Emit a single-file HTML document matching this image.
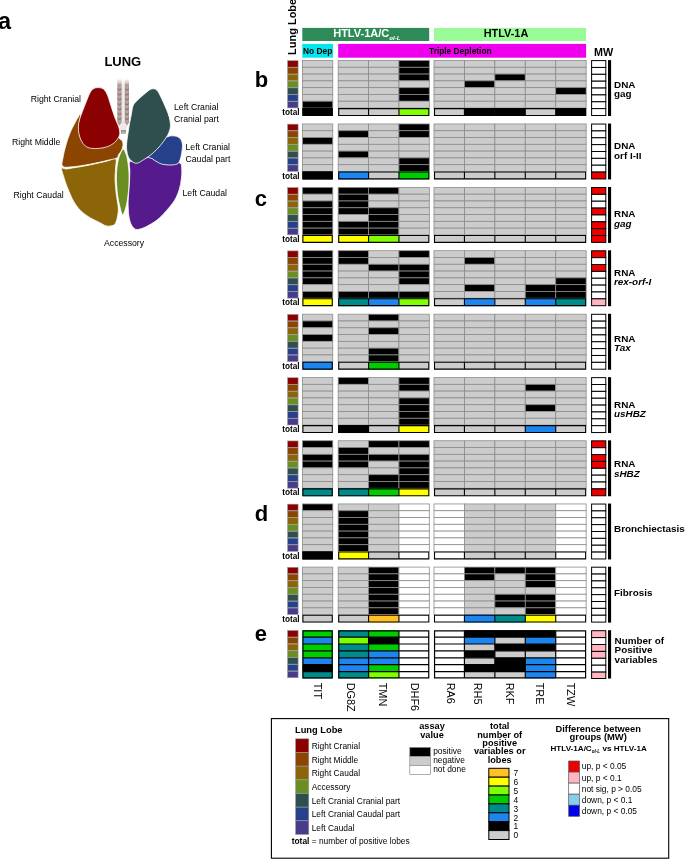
<!DOCTYPE html>
<html lang="en">
<head>
<meta charset="utf-8">
<title>Lung lobe figure</title>
<style>
html,body{margin:0;padding:0;background:#ffffff;}
body{width:685px;height:859px;overflow:hidden;}
svg{display:block;}
svg text{font-family:"Liberation Sans",Arial,Helvetica,sans-serif;fill:#000000;}
</style>
</head>
<body>
<svg width="685" height="859" viewBox="0 0 685 859">
<rect x="0" y="0" width="685" height="859" fill="#ffffff"/>
<!-- lung illustration -->
<defs><linearGradient id="trf" x1="0" y1="0" x2="0" y2="1"><stop offset="0" stop-color="#ffffff" stop-opacity="1"/><stop offset="0.25" stop-color="#ffffff" stop-opacity="0.95"/><stop offset="1" stop-color="#ffffff" stop-opacity="0"/></linearGradient></defs>
<g>
<path d="M121.2,78 H125.2 V125 L127.4,125.6 L126.1,130 H120.7 L119.2,125.6 L121.2,125 Z" fill="#ebe9e9"/>
<path d="M117.3,78 H121.6 V122.6 L119.45,125.8 L117.3,122.6 Z" fill="#ad9893"/>
<path d="M117.50,84.00 L119.45,85.30 L121.40,84.00" fill="none" stroke="#836863" stroke-width="0.9"/>
<ellipse cx="119.45" cy="87.20" rx="1.5" ry="1.3" fill="#b7a5a1"/>
<path d="M117.50,88.90 L119.45,90.20 L121.40,88.90" fill="none" stroke="#836863" stroke-width="0.9"/>
<ellipse cx="119.45" cy="92.10" rx="1.5" ry="1.3" fill="#b7a5a1"/>
<path d="M117.50,93.80 L119.45,95.10 L121.40,93.80" fill="none" stroke="#836863" stroke-width="0.9"/>
<ellipse cx="119.45" cy="97.00" rx="1.5" ry="1.3" fill="#b7a5a1"/>
<path d="M117.50,98.70 L119.45,100.00 L121.40,98.70" fill="none" stroke="#836863" stroke-width="0.9"/>
<ellipse cx="119.45" cy="101.90" rx="1.5" ry="1.3" fill="#b7a5a1"/>
<path d="M117.50,103.60 L119.45,104.90 L121.40,103.60" fill="none" stroke="#836863" stroke-width="0.9"/>
<ellipse cx="119.45" cy="106.80" rx="1.5" ry="1.3" fill="#b7a5a1"/>
<path d="M117.50,108.50 L119.45,109.80 L121.40,108.50" fill="none" stroke="#836863" stroke-width="0.9"/>
<ellipse cx="119.45" cy="111.70" rx="1.5" ry="1.3" fill="#b7a5a1"/>
<path d="M117.50,113.40 L119.45,114.70 L121.40,113.40" fill="none" stroke="#836863" stroke-width="0.9"/>
<ellipse cx="119.45" cy="116.60" rx="1.5" ry="1.3" fill="#b7a5a1"/>
<path d="M117.50,118.30 L119.45,119.60 L121.40,118.30" fill="none" stroke="#836863" stroke-width="0.9"/>
<ellipse cx="119.45" cy="121.50" rx="1.5" ry="1.3" fill="#b7a5a1"/>
<path d="M124.8,78 H129.0 V122.6 L126.90,125.8 L124.8,122.6 Z" fill="#ad9893"/>
<path d="M125.00,84.00 L126.90,85.30 L128.80,84.00" fill="none" stroke="#836863" stroke-width="0.9"/>
<ellipse cx="126.90" cy="87.20" rx="1.5" ry="1.3" fill="#b7a5a1"/>
<path d="M125.00,88.90 L126.90,90.20 L128.80,88.90" fill="none" stroke="#836863" stroke-width="0.9"/>
<ellipse cx="126.90" cy="92.10" rx="1.5" ry="1.3" fill="#b7a5a1"/>
<path d="M125.00,93.80 L126.90,95.10 L128.80,93.80" fill="none" stroke="#836863" stroke-width="0.9"/>
<ellipse cx="126.90" cy="97.00" rx="1.5" ry="1.3" fill="#b7a5a1"/>
<path d="M125.00,98.70 L126.90,100.00 L128.80,98.70" fill="none" stroke="#836863" stroke-width="0.9"/>
<ellipse cx="126.90" cy="101.90" rx="1.5" ry="1.3" fill="#b7a5a1"/>
<path d="M125.00,103.60 L126.90,104.90 L128.80,103.60" fill="none" stroke="#836863" stroke-width="0.9"/>
<ellipse cx="126.90" cy="106.80" rx="1.5" ry="1.3" fill="#b7a5a1"/>
<path d="M125.00,108.50 L126.90,109.80 L128.80,108.50" fill="none" stroke="#836863" stroke-width="0.9"/>
<ellipse cx="126.90" cy="111.70" rx="1.5" ry="1.3" fill="#b7a5a1"/>
<path d="M125.00,113.40 L126.90,114.70 L128.80,113.40" fill="none" stroke="#836863" stroke-width="0.9"/>
<ellipse cx="126.90" cy="116.60" rx="1.5" ry="1.3" fill="#b7a5a1"/>
<path d="M125.00,118.30 L126.90,119.60 L128.80,118.30" fill="none" stroke="#836863" stroke-width="0.9"/>
<ellipse cx="126.90" cy="121.50" rx="1.5" ry="1.3" fill="#b7a5a1"/>
<path d="M120.6,129.9 H126.2 L125.6,133.8 H121.2 Z" fill="#a48a85"/>
<path d="M122.3,131.3 H124.5 L124.3,133.8 H122.5 Z" fill="#c9bab7"/>
<rect x="116" y="76.5" width="15" height="10" fill="url(#trf)"/>
</g>
<path d="M61.6,168.5C62.0,167.2 64.2,169.1 66.0,169.0C67.8,168.9 68.5,168.7 72.5,168.0C76.5,167.3 84.2,166.1 90.0,164.9C95.8,163.7 103.3,161.9 107.6,160.9C111.9,159.9 114.4,157.8 115.7,158.9C117.0,160.0 115.7,164.1 115.6,167.5C115.5,170.9 115.0,174.7 115.1,179.2C115.2,183.7 115.8,189.9 116.3,194.4C116.8,198.9 117.8,203.0 118.1,206.1C118.4,209.2 118.4,210.6 118.1,213.1C117.8,215.6 117.1,219.2 116.3,221.2C115.5,223.2 115.1,224.5 113.4,225.3C111.8,226.1 108.7,226.4 106.4,225.9C104.1,225.4 102.1,223.8 99.4,222.4C96.7,221.0 93.1,219.6 90.0,217.7C86.9,215.8 83.4,213.4 80.7,210.7C78.0,208.0 75.9,205.1 73.7,201.4C71.5,197.7 69.5,192.6 67.8,188.5C66.1,184.4 64.8,180.2 63.8,176.9C62.8,173.6 61.2,169.8 61.6,168.5Z" fill="#8b6508" stroke="#ffffff" stroke-width="0.8" stroke-linejoin="round"/>
<path d="M80.3,114.0C81.1,113.6 80.2,117.6 80.0,119.7C79.8,121.8 79.2,124.3 79.2,126.7C79.2,129.1 79.3,131.6 79.8,133.9C80.3,136.2 81.3,138.7 82.4,140.6C83.5,142.5 84.7,144.3 86.2,145.4C87.7,146.5 89.3,147.1 91.5,147.4C93.7,147.7 96.6,147.7 99.3,147.4C102.0,147.1 105.0,146.6 107.5,145.6C110.0,144.6 112.5,143.0 114.2,141.6C116.0,140.2 117.0,137.8 118.0,137.4C119.0,137.0 119.2,138.4 119.9,139.0C120.6,139.6 121.8,139.9 122.3,141.0C122.8,142.1 123.2,143.7 123.0,145.4C122.8,147.1 122.0,149.5 121.3,151.0C120.6,152.5 119.3,153.3 118.6,154.5C117.9,155.7 118.7,156.9 116.9,157.9C115.1,158.9 112.1,159.2 107.6,160.3C103.1,161.4 95.8,163.1 90.0,164.2C84.2,165.3 77.1,166.5 72.5,166.8C67.9,167.2 64.2,167.9 62.6,166.3C61.0,164.7 62.6,160.5 63.1,157.1C63.6,153.7 64.6,149.9 65.7,145.9C66.8,141.9 68.3,137.3 69.9,133.3C71.5,129.3 73.7,125.3 75.4,122.1C77.1,118.9 79.5,114.4 80.3,114.0Z" fill="#8b4500" stroke="#ffffff" stroke-width="0.8" stroke-linejoin="round"/>
<path d="M98.2,87.6C96.5,87.5 94.9,87.9 93.5,88.8C92.1,89.7 91.2,90.8 90.0,92.8C88.8,94.8 87.8,97.9 86.5,101.0C85.2,104.1 83.6,108.4 82.4,111.5C81.2,114.6 80.2,117.2 79.5,119.7C78.8,122.2 78.5,124.4 78.4,126.7C78.3,129.0 78.4,131.4 78.9,133.7C79.4,136.0 80.2,138.6 81.3,140.7C82.4,142.8 83.8,144.7 85.4,146.0C87.1,147.3 88.9,147.9 91.2,148.3C93.5,148.7 96.7,148.6 99.4,148.3C102.1,148.0 105.1,147.6 107.6,146.6C110.1,145.6 112.8,144.1 114.6,142.5C116.4,140.9 117.8,138.8 118.7,137.2C119.6,135.5 119.8,134.3 119.8,132.6C119.8,130.8 119.4,128.8 118.7,126.7C118.0,124.6 116.7,122.2 115.7,119.7C114.7,117.2 113.8,114.4 112.8,111.5C111.8,108.6 110.9,105.1 109.9,102.2C108.9,99.3 108.1,96.2 107.0,94.0C105.9,91.8 105.0,90.2 103.5,89.1C102.0,88.0 99.9,87.6 98.2,87.6Z" fill="#8b0000" stroke="#ffffff" stroke-width="0.8" stroke-linejoin="round"/>
<path d="M129.6,161.8C130.5,160.5 133.4,162.5 135.4,162.2C137.4,161.9 139.1,160.9 141.3,160.0C143.6,159.1 146.9,157.2 148.9,157.0C150.9,156.8 151.9,158.2 153.5,159.0C155.1,159.8 156.2,161.0 158.2,161.8C160.1,162.6 162.7,163.3 165.2,163.6C167.7,163.9 170.9,163.7 173.4,163.6C175.9,163.5 179.0,162.1 180.4,163.2C181.8,164.2 181.7,167.2 181.8,169.9C182.0,172.6 181.7,175.9 181.3,179.2C180.9,182.5 180.3,186.2 179.2,189.7C178.1,193.2 176.7,196.7 174.6,200.2C172.5,203.7 169.3,207.4 166.4,210.7C163.5,214.0 160.3,217.5 157.0,220.1C153.7,222.7 149.6,224.9 146.5,226.5C143.4,228.1 140.4,229.1 138.4,229.4C136.4,229.7 135.6,229.5 134.3,228.5C133.0,227.5 131.7,225.8 130.8,223.6C129.9,221.4 129.2,218.9 128.8,215.4C128.4,211.9 128.1,206.7 128.1,202.6C128.1,198.5 128.6,194.8 128.8,190.9C129.1,187.0 129.4,182.7 129.6,179.2C129.8,175.7 129.8,172.8 129.8,169.9C129.8,167.0 128.7,163.1 129.6,161.8Z" fill="#551a8b" stroke="#ffffff" stroke-width="0.8" stroke-linejoin="round"/>
<path d="M148.0,156.7C148.4,155.5 152.4,153.2 154.5,151.2C156.6,149.2 158.5,147.0 160.3,144.8C162.1,142.6 163.5,139.7 165.2,138.2C166.9,136.7 168.6,136.2 170.5,135.9C172.4,135.6 175.2,135.8 176.9,136.4C178.7,137.0 180.1,138.1 181.0,139.6C181.9,141.1 182.4,143.1 182.5,145.4C182.6,147.7 182.0,151.1 181.6,153.6C181.2,156.1 180.6,158.8 179.8,160.6C179.0,162.3 178.6,163.4 176.9,164.1C175.2,164.8 172.4,165.0 169.9,165.0C167.4,165.0 164.0,164.7 161.7,164.1C159.4,163.5 157.5,162.1 155.9,161.2C154.3,160.3 153.3,159.3 152.0,158.6C150.7,157.8 147.6,157.9 148.0,156.7Z" fill="#27408b" stroke="#ffffff" stroke-width="0.8" stroke-linejoin="round"/>
<path d="M154.1,88.8C155.4,89.0 156.3,89.4 157.6,91.1C158.9,92.8 160.2,95.7 161.7,98.7C163.2,101.7 165.1,106.1 166.4,109.2C167.7,112.3 168.6,114.7 169.3,117.4C170.0,120.1 170.5,123.2 170.5,125.5C170.5,127.8 170.0,129.5 169.3,131.4C168.6,133.3 167.9,134.9 166.4,137.2C164.9,139.5 162.8,142.7 160.5,145.4C158.2,148.1 155.1,151.3 152.4,153.6C149.7,155.9 146.7,157.8 144.2,159.4C141.7,161.0 139.1,162.8 137.2,163.2C135.2,163.6 134.0,162.8 132.5,161.8C131.0,160.8 129.4,159.1 128.4,157.1C127.4,155.1 127.0,152.4 126.7,150.1C126.4,147.8 126.5,146.0 126.7,143.1C126.9,140.2 127.6,135.9 128.1,132.6C128.6,129.3 129.0,126.3 129.6,123.2C130.2,120.1 130.8,116.8 131.4,113.9C132.0,111.0 132.2,107.9 133.1,105.7C134.0,103.5 134.9,102.8 136.6,101.0C138.2,99.2 140.8,97.0 143.0,95.2C145.2,93.4 147.7,91.0 149.5,89.9C151.3,88.8 152.8,88.6 154.1,88.8Z" fill="#2f4f4f" stroke="#ffffff" stroke-width="0.8" stroke-linejoin="round"/>
<path d="M123.3,148.9C124.1,149.0 124.9,151.3 125.6,153.0C126.3,154.7 126.8,155.9 127.4,159.3C128.0,162.7 128.8,168.1 129.0,173.4C129.2,178.7 129.0,185.5 128.5,190.9C128.0,196.3 127.2,202.1 126.2,206.1C125.2,210.1 123.8,214.8 122.7,214.8C121.6,214.8 120.7,209.5 119.8,206.1C118.9,202.7 118.1,198.9 117.5,194.4C116.9,189.9 116.5,183.7 116.4,179.2C116.3,174.7 116.6,171.0 117.0,167.5C117.4,164.0 118.0,160.7 118.7,158.2C119.4,155.7 120.2,153.9 121.0,152.3C121.8,150.8 122.5,148.8 123.3,148.9Z" fill="#6b8e23" stroke="#ffffff" stroke-width="0.8" stroke-linejoin="round"/>
<text x="122.8" y="66.1" font-size="13" font-weight="bold" text-anchor="middle">LUNG</text>
<text x="30.7" y="101.8" font-size="8.7" font-weight="normal" text-anchor="start">Right Cranial</text>
<text x="12" y="145" font-size="8.7" font-weight="normal" text-anchor="start">Right Middle</text>
<text x="13.5" y="197.5" font-size="8.7" font-weight="normal" text-anchor="start">Right Caudal</text>
<text x="174" y="110" font-size="8.7" font-weight="normal" text-anchor="start">Left Cranial</text>
<text x="174" y="122" font-size="8.7" font-weight="normal" text-anchor="start">Cranial part</text>
<text x="185.5" y="149.8" font-size="8.7" font-weight="normal" text-anchor="start">Left Cranial</text>
<text x="185.5" y="161.8" font-size="8.7" font-weight="normal" text-anchor="start">Caudal part</text>
<text x="182.5" y="196" font-size="8.7" font-weight="normal" text-anchor="start">Left Caudal</text>
<text x="104" y="245.5" font-size="8.7" font-weight="normal" text-anchor="start">Accessory</text>
<!-- heat-map grid -->
<g shape-rendering="auto">
<rect x="287.60" y="60.70" width="10.50" height="6.49" fill="#8b0000" stroke="#9a9a9a" stroke-width="0.6"/>
<rect x="287.60" y="67.49" width="10.50" height="6.49" fill="#8b4500" stroke="#9a9a9a" stroke-width="0.6"/>
<rect x="287.60" y="74.28" width="10.50" height="6.49" fill="#8b6508" stroke="#9a9a9a" stroke-width="0.6"/>
<rect x="287.60" y="81.07" width="10.50" height="6.49" fill="#6b8e23" stroke="#9a9a9a" stroke-width="0.6"/>
<rect x="287.60" y="87.86" width="10.50" height="6.49" fill="#2f4f4f" stroke="#9a9a9a" stroke-width="0.6"/>
<rect x="287.60" y="94.65" width="10.50" height="6.49" fill="#27408b" stroke="#9a9a9a" stroke-width="0.6"/>
<rect x="287.60" y="101.44" width="10.50" height="6.49" fill="#473c8b" stroke="#9a9a9a" stroke-width="0.6"/>
<text x="299.60" y="115.10" font-size="8.25" font-weight="bold" font-style="normal" text-anchor="end">total</text>
<rect x="302.40" y="60.50" width="30.37" height="6.79" fill="#cccccc" stroke="#8c8c8c" stroke-width="0.8"/>
<rect x="302.40" y="67.29" width="30.37" height="6.79" fill="#cccccc" stroke="#8c8c8c" stroke-width="0.8"/>
<rect x="302.40" y="74.08" width="30.37" height="6.79" fill="#cccccc" stroke="#8c8c8c" stroke-width="0.8"/>
<rect x="302.40" y="80.87" width="30.37" height="6.79" fill="#cccccc" stroke="#8c8c8c" stroke-width="0.8"/>
<rect x="302.40" y="87.66" width="30.37" height="6.79" fill="#cccccc" stroke="#8c8c8c" stroke-width="0.8"/>
<rect x="302.40" y="94.45" width="30.37" height="6.79" fill="#cccccc" stroke="#8c8c8c" stroke-width="0.8"/>
<rect x="302.40" y="101.24" width="30.37" height="6.79" fill="#000000" stroke="#8c8c8c" stroke-width="0.8"/>
<rect x="302.40" y="108.03" width="30.37" height="7.95" fill="#000000"/>
<rect x="338.20" y="60.50" width="30.37" height="6.79" fill="#cccccc" stroke="#8c8c8c" stroke-width="0.8"/>
<rect x="338.20" y="67.29" width="30.37" height="6.79" fill="#cccccc" stroke="#8c8c8c" stroke-width="0.8"/>
<rect x="338.20" y="74.08" width="30.37" height="6.79" fill="#cccccc" stroke="#8c8c8c" stroke-width="0.8"/>
<rect x="338.20" y="80.87" width="30.37" height="6.79" fill="#cccccc" stroke="#8c8c8c" stroke-width="0.8"/>
<rect x="338.20" y="87.66" width="30.37" height="6.79" fill="#cccccc" stroke="#8c8c8c" stroke-width="0.8"/>
<rect x="338.20" y="94.45" width="30.37" height="6.79" fill="#cccccc" stroke="#8c8c8c" stroke-width="0.8"/>
<rect x="338.20" y="101.24" width="30.37" height="6.79" fill="#cccccc" stroke="#8c8c8c" stroke-width="0.8"/>
<rect x="338.20" y="108.03" width="30.37" height="7.95" fill="#cccccc"/>
<rect x="368.57" y="60.50" width="30.37" height="6.79" fill="#cccccc" stroke="#8c8c8c" stroke-width="0.8"/>
<rect x="368.57" y="67.29" width="30.37" height="6.79" fill="#cccccc" stroke="#8c8c8c" stroke-width="0.8"/>
<rect x="368.57" y="74.08" width="30.37" height="6.79" fill="#cccccc" stroke="#8c8c8c" stroke-width="0.8"/>
<rect x="368.57" y="80.87" width="30.37" height="6.79" fill="#cccccc" stroke="#8c8c8c" stroke-width="0.8"/>
<rect x="368.57" y="87.66" width="30.37" height="6.79" fill="#cccccc" stroke="#8c8c8c" stroke-width="0.8"/>
<rect x="368.57" y="94.45" width="30.37" height="6.79" fill="#cccccc" stroke="#8c8c8c" stroke-width="0.8"/>
<rect x="368.57" y="101.24" width="30.37" height="6.79" fill="#cccccc" stroke="#8c8c8c" stroke-width="0.8"/>
<rect x="368.57" y="108.03" width="30.37" height="7.95" fill="#cccccc"/>
<rect x="398.94" y="60.50" width="30.37" height="6.79" fill="#000000" stroke="#8c8c8c" stroke-width="0.8"/>
<rect x="398.94" y="67.29" width="30.37" height="6.79" fill="#000000" stroke="#8c8c8c" stroke-width="0.8"/>
<rect x="398.94" y="74.08" width="30.37" height="6.79" fill="#000000" stroke="#8c8c8c" stroke-width="0.8"/>
<rect x="398.94" y="80.87" width="30.37" height="6.79" fill="#cccccc" stroke="#8c8c8c" stroke-width="0.8"/>
<rect x="398.94" y="87.66" width="30.37" height="6.79" fill="#000000" stroke="#8c8c8c" stroke-width="0.8"/>
<rect x="398.94" y="94.45" width="30.37" height="6.79" fill="#000000" stroke="#8c8c8c" stroke-width="0.8"/>
<rect x="398.94" y="101.24" width="30.37" height="6.79" fill="#cccccc" stroke="#8c8c8c" stroke-width="0.8"/>
<rect x="398.94" y="108.03" width="30.37" height="7.95" fill="#7fff00"/>
<rect x="434.00" y="60.50" width="30.43" height="6.79" fill="#cccccc" stroke="#8c8c8c" stroke-width="0.8"/>
<rect x="434.00" y="67.29" width="30.43" height="6.79" fill="#cccccc" stroke="#8c8c8c" stroke-width="0.8"/>
<rect x="434.00" y="74.08" width="30.43" height="6.79" fill="#cccccc" stroke="#8c8c8c" stroke-width="0.8"/>
<rect x="434.00" y="80.87" width="30.43" height="6.79" fill="#cccccc" stroke="#8c8c8c" stroke-width="0.8"/>
<rect x="434.00" y="87.66" width="30.43" height="6.79" fill="#cccccc" stroke="#8c8c8c" stroke-width="0.8"/>
<rect x="434.00" y="94.45" width="30.43" height="6.79" fill="#cccccc" stroke="#8c8c8c" stroke-width="0.8"/>
<rect x="434.00" y="101.24" width="30.43" height="6.79" fill="#cccccc" stroke="#8c8c8c" stroke-width="0.8"/>
<rect x="434.00" y="108.03" width="30.43" height="7.95" fill="#cccccc"/>
<rect x="464.43" y="60.50" width="30.43" height="6.79" fill="#cccccc" stroke="#8c8c8c" stroke-width="0.8"/>
<rect x="464.43" y="67.29" width="30.43" height="6.79" fill="#cccccc" stroke="#8c8c8c" stroke-width="0.8"/>
<rect x="464.43" y="74.08" width="30.43" height="6.79" fill="#cccccc" stroke="#8c8c8c" stroke-width="0.8"/>
<rect x="464.43" y="80.87" width="30.43" height="6.79" fill="#000000" stroke="#8c8c8c" stroke-width="0.8"/>
<rect x="464.43" y="87.66" width="30.43" height="6.79" fill="#cccccc" stroke="#8c8c8c" stroke-width="0.8"/>
<rect x="464.43" y="94.45" width="30.43" height="6.79" fill="#cccccc" stroke="#8c8c8c" stroke-width="0.8"/>
<rect x="464.43" y="101.24" width="30.43" height="6.79" fill="#cccccc" stroke="#8c8c8c" stroke-width="0.8"/>
<rect x="464.43" y="108.03" width="30.43" height="7.95" fill="#000000"/>
<rect x="494.86" y="60.50" width="30.43" height="6.79" fill="#cccccc" stroke="#8c8c8c" stroke-width="0.8"/>
<rect x="494.86" y="67.29" width="30.43" height="6.79" fill="#cccccc" stroke="#8c8c8c" stroke-width="0.8"/>
<rect x="494.86" y="74.08" width="30.43" height="6.79" fill="#000000" stroke="#8c8c8c" stroke-width="0.8"/>
<rect x="494.86" y="80.87" width="30.43" height="6.79" fill="#cccccc" stroke="#8c8c8c" stroke-width="0.8"/>
<rect x="494.86" y="87.66" width="30.43" height="6.79" fill="#cccccc" stroke="#8c8c8c" stroke-width="0.8"/>
<rect x="494.86" y="94.45" width="30.43" height="6.79" fill="#cccccc" stroke="#8c8c8c" stroke-width="0.8"/>
<rect x="494.86" y="101.24" width="30.43" height="6.79" fill="#cccccc" stroke="#8c8c8c" stroke-width="0.8"/>
<rect x="494.86" y="108.03" width="30.43" height="7.95" fill="#000000"/>
<rect x="525.29" y="60.50" width="30.43" height="6.79" fill="#cccccc" stroke="#8c8c8c" stroke-width="0.8"/>
<rect x="525.29" y="67.29" width="30.43" height="6.79" fill="#cccccc" stroke="#8c8c8c" stroke-width="0.8"/>
<rect x="525.29" y="74.08" width="30.43" height="6.79" fill="#cccccc" stroke="#8c8c8c" stroke-width="0.8"/>
<rect x="525.29" y="80.87" width="30.43" height="6.79" fill="#cccccc" stroke="#8c8c8c" stroke-width="0.8"/>
<rect x="525.29" y="87.66" width="30.43" height="6.79" fill="#cccccc" stroke="#8c8c8c" stroke-width="0.8"/>
<rect x="525.29" y="94.45" width="30.43" height="6.79" fill="#cccccc" stroke="#8c8c8c" stroke-width="0.8"/>
<rect x="525.29" y="101.24" width="30.43" height="6.79" fill="#cccccc" stroke="#8c8c8c" stroke-width="0.8"/>
<rect x="525.29" y="108.03" width="30.43" height="7.95" fill="#cccccc"/>
<rect x="555.72" y="60.50" width="30.43" height="6.79" fill="#cccccc" stroke="#8c8c8c" stroke-width="0.8"/>
<rect x="555.72" y="67.29" width="30.43" height="6.79" fill="#cccccc" stroke="#8c8c8c" stroke-width="0.8"/>
<rect x="555.72" y="74.08" width="30.43" height="6.79" fill="#cccccc" stroke="#8c8c8c" stroke-width="0.8"/>
<rect x="555.72" y="80.87" width="30.43" height="6.79" fill="#cccccc" stroke="#8c8c8c" stroke-width="0.8"/>
<rect x="555.72" y="87.66" width="30.43" height="6.79" fill="#000000" stroke="#8c8c8c" stroke-width="0.8"/>
<rect x="555.72" y="94.45" width="30.43" height="6.79" fill="#cccccc" stroke="#8c8c8c" stroke-width="0.8"/>
<rect x="555.72" y="101.24" width="30.43" height="6.79" fill="#cccccc" stroke="#8c8c8c" stroke-width="0.8"/>
<rect x="555.72" y="108.03" width="30.43" height="7.95" fill="#000000"/>
<path d="M302.90,108.58H332.27V115.43H302.90ZM338.70,108.58H428.81V115.43H338.70ZM368.57,108.58V115.43M398.94,108.58V115.43M434.50,108.58H585.65V115.43H434.50ZM464.43,108.58V115.43M494.86,108.58V115.43M525.29,108.58V115.43M555.72,108.58V115.43" fill="none" stroke="#000000" stroke-width="1.1"/>
<rect x="591.60" y="60.60" width="14.20" height="6.86" fill="#ffffff" stroke="#000000" stroke-width="1.0"/>
<rect x="591.60" y="67.46" width="14.20" height="6.86" fill="#ffffff" stroke="#000000" stroke-width="1.0"/>
<rect x="591.60" y="74.33" width="14.20" height="6.86" fill="#ffffff" stroke="#000000" stroke-width="1.0"/>
<rect x="591.60" y="81.19" width="14.20" height="6.86" fill="#ffffff" stroke="#000000" stroke-width="1.0"/>
<rect x="591.60" y="88.05" width="14.20" height="6.86" fill="#ffffff" stroke="#000000" stroke-width="1.0"/>
<rect x="591.60" y="94.91" width="14.20" height="6.86" fill="#ffffff" stroke="#000000" stroke-width="1.0"/>
<rect x="591.60" y="101.78" width="14.20" height="6.86" fill="#ffffff" stroke="#000000" stroke-width="1.0"/>
<rect x="591.60" y="108.64" width="14.20" height="6.86" fill="#ffffff" stroke="#000000" stroke-width="1.0"/>
<rect x="608.00" y="60.10" width="3.10" height="55.90" fill="#000000"/>
<rect x="287.60" y="124.15" width="10.50" height="6.49" fill="#8b0000" stroke="#9a9a9a" stroke-width="0.6"/>
<rect x="287.60" y="130.94" width="10.50" height="6.49" fill="#8b4500" stroke="#9a9a9a" stroke-width="0.6"/>
<rect x="287.60" y="137.73" width="10.50" height="6.49" fill="#8b6508" stroke="#9a9a9a" stroke-width="0.6"/>
<rect x="287.60" y="144.52" width="10.50" height="6.49" fill="#6b8e23" stroke="#9a9a9a" stroke-width="0.6"/>
<rect x="287.60" y="151.31" width="10.50" height="6.49" fill="#2f4f4f" stroke="#9a9a9a" stroke-width="0.6"/>
<rect x="287.60" y="158.10" width="10.50" height="6.49" fill="#27408b" stroke="#9a9a9a" stroke-width="0.6"/>
<rect x="287.60" y="164.89" width="10.50" height="6.49" fill="#473c8b" stroke="#9a9a9a" stroke-width="0.6"/>
<text x="299.60" y="178.55" font-size="8.25" font-weight="bold" font-style="normal" text-anchor="end">total</text>
<rect x="302.40" y="123.95" width="30.37" height="6.79" fill="#cccccc" stroke="#8c8c8c" stroke-width="0.8"/>
<rect x="302.40" y="130.74" width="30.37" height="6.79" fill="#cccccc" stroke="#8c8c8c" stroke-width="0.8"/>
<rect x="302.40" y="137.53" width="30.37" height="6.79" fill="#000000" stroke="#8c8c8c" stroke-width="0.8"/>
<rect x="302.40" y="144.32" width="30.37" height="6.79" fill="#cccccc" stroke="#8c8c8c" stroke-width="0.8"/>
<rect x="302.40" y="151.11" width="30.37" height="6.79" fill="#cccccc" stroke="#8c8c8c" stroke-width="0.8"/>
<rect x="302.40" y="157.90" width="30.37" height="6.79" fill="#cccccc" stroke="#8c8c8c" stroke-width="0.8"/>
<rect x="302.40" y="164.69" width="30.37" height="6.79" fill="#cccccc" stroke="#8c8c8c" stroke-width="0.8"/>
<rect x="302.40" y="171.48" width="30.37" height="7.95" fill="#000000"/>
<rect x="338.20" y="123.95" width="30.37" height="6.79" fill="#cccccc" stroke="#8c8c8c" stroke-width="0.8"/>
<rect x="338.20" y="130.74" width="30.37" height="6.79" fill="#000000" stroke="#8c8c8c" stroke-width="0.8"/>
<rect x="338.20" y="137.53" width="30.37" height="6.79" fill="#cccccc" stroke="#8c8c8c" stroke-width="0.8"/>
<rect x="338.20" y="144.32" width="30.37" height="6.79" fill="#cccccc" stroke="#8c8c8c" stroke-width="0.8"/>
<rect x="338.20" y="151.11" width="30.37" height="6.79" fill="#000000" stroke="#8c8c8c" stroke-width="0.8"/>
<rect x="338.20" y="157.90" width="30.37" height="6.79" fill="#cccccc" stroke="#8c8c8c" stroke-width="0.8"/>
<rect x="338.20" y="164.69" width="30.37" height="6.79" fill="#cccccc" stroke="#8c8c8c" stroke-width="0.8"/>
<rect x="338.20" y="171.48" width="30.37" height="7.95" fill="#1c86ee"/>
<rect x="368.57" y="123.95" width="30.37" height="6.79" fill="#cccccc" stroke="#8c8c8c" stroke-width="0.8"/>
<rect x="368.57" y="130.74" width="30.37" height="6.79" fill="#cccccc" stroke="#8c8c8c" stroke-width="0.8"/>
<rect x="368.57" y="137.53" width="30.37" height="6.79" fill="#cccccc" stroke="#8c8c8c" stroke-width="0.8"/>
<rect x="368.57" y="144.32" width="30.37" height="6.79" fill="#cccccc" stroke="#8c8c8c" stroke-width="0.8"/>
<rect x="368.57" y="151.11" width="30.37" height="6.79" fill="#cccccc" stroke="#8c8c8c" stroke-width="0.8"/>
<rect x="368.57" y="157.90" width="30.37" height="6.79" fill="#cccccc" stroke="#8c8c8c" stroke-width="0.8"/>
<rect x="368.57" y="164.69" width="30.37" height="6.79" fill="#cccccc" stroke="#8c8c8c" stroke-width="0.8"/>
<rect x="368.57" y="171.48" width="30.37" height="7.95" fill="#cccccc"/>
<rect x="398.94" y="123.95" width="30.37" height="6.79" fill="#000000" stroke="#8c8c8c" stroke-width="0.8"/>
<rect x="398.94" y="130.74" width="30.37" height="6.79" fill="#000000" stroke="#8c8c8c" stroke-width="0.8"/>
<rect x="398.94" y="137.53" width="30.37" height="6.79" fill="#cccccc" stroke="#8c8c8c" stroke-width="0.8"/>
<rect x="398.94" y="144.32" width="30.37" height="6.79" fill="#cccccc" stroke="#8c8c8c" stroke-width="0.8"/>
<rect x="398.94" y="151.11" width="30.37" height="6.79" fill="#cccccc" stroke="#8c8c8c" stroke-width="0.8"/>
<rect x="398.94" y="157.90" width="30.37" height="6.79" fill="#000000" stroke="#8c8c8c" stroke-width="0.8"/>
<rect x="398.94" y="164.69" width="30.37" height="6.79" fill="#000000" stroke="#8c8c8c" stroke-width="0.8"/>
<rect x="398.94" y="171.48" width="30.37" height="7.95" fill="#00cd00"/>
<rect x="434.00" y="123.95" width="30.43" height="6.79" fill="#cccccc" stroke="#8c8c8c" stroke-width="0.8"/>
<rect x="434.00" y="130.74" width="30.43" height="6.79" fill="#cccccc" stroke="#8c8c8c" stroke-width="0.8"/>
<rect x="434.00" y="137.53" width="30.43" height="6.79" fill="#cccccc" stroke="#8c8c8c" stroke-width="0.8"/>
<rect x="434.00" y="144.32" width="30.43" height="6.79" fill="#cccccc" stroke="#8c8c8c" stroke-width="0.8"/>
<rect x="434.00" y="151.11" width="30.43" height="6.79" fill="#cccccc" stroke="#8c8c8c" stroke-width="0.8"/>
<rect x="434.00" y="157.90" width="30.43" height="6.79" fill="#cccccc" stroke="#8c8c8c" stroke-width="0.8"/>
<rect x="434.00" y="164.69" width="30.43" height="6.79" fill="#cccccc" stroke="#8c8c8c" stroke-width="0.8"/>
<rect x="434.00" y="171.48" width="30.43" height="7.95" fill="#cccccc"/>
<rect x="464.43" y="123.95" width="30.43" height="6.79" fill="#cccccc" stroke="#8c8c8c" stroke-width="0.8"/>
<rect x="464.43" y="130.74" width="30.43" height="6.79" fill="#cccccc" stroke="#8c8c8c" stroke-width="0.8"/>
<rect x="464.43" y="137.53" width="30.43" height="6.79" fill="#cccccc" stroke="#8c8c8c" stroke-width="0.8"/>
<rect x="464.43" y="144.32" width="30.43" height="6.79" fill="#cccccc" stroke="#8c8c8c" stroke-width="0.8"/>
<rect x="464.43" y="151.11" width="30.43" height="6.79" fill="#cccccc" stroke="#8c8c8c" stroke-width="0.8"/>
<rect x="464.43" y="157.90" width="30.43" height="6.79" fill="#cccccc" stroke="#8c8c8c" stroke-width="0.8"/>
<rect x="464.43" y="164.69" width="30.43" height="6.79" fill="#cccccc" stroke="#8c8c8c" stroke-width="0.8"/>
<rect x="464.43" y="171.48" width="30.43" height="7.95" fill="#cccccc"/>
<rect x="494.86" y="123.95" width="30.43" height="6.79" fill="#cccccc" stroke="#8c8c8c" stroke-width="0.8"/>
<rect x="494.86" y="130.74" width="30.43" height="6.79" fill="#cccccc" stroke="#8c8c8c" stroke-width="0.8"/>
<rect x="494.86" y="137.53" width="30.43" height="6.79" fill="#cccccc" stroke="#8c8c8c" stroke-width="0.8"/>
<rect x="494.86" y="144.32" width="30.43" height="6.79" fill="#cccccc" stroke="#8c8c8c" stroke-width="0.8"/>
<rect x="494.86" y="151.11" width="30.43" height="6.79" fill="#cccccc" stroke="#8c8c8c" stroke-width="0.8"/>
<rect x="494.86" y="157.90" width="30.43" height="6.79" fill="#cccccc" stroke="#8c8c8c" stroke-width="0.8"/>
<rect x="494.86" y="164.69" width="30.43" height="6.79" fill="#cccccc" stroke="#8c8c8c" stroke-width="0.8"/>
<rect x="494.86" y="171.48" width="30.43" height="7.95" fill="#cccccc"/>
<rect x="525.29" y="123.95" width="30.43" height="6.79" fill="#cccccc" stroke="#8c8c8c" stroke-width="0.8"/>
<rect x="525.29" y="130.74" width="30.43" height="6.79" fill="#cccccc" stroke="#8c8c8c" stroke-width="0.8"/>
<rect x="525.29" y="137.53" width="30.43" height="6.79" fill="#cccccc" stroke="#8c8c8c" stroke-width="0.8"/>
<rect x="525.29" y="144.32" width="30.43" height="6.79" fill="#cccccc" stroke="#8c8c8c" stroke-width="0.8"/>
<rect x="525.29" y="151.11" width="30.43" height="6.79" fill="#cccccc" stroke="#8c8c8c" stroke-width="0.8"/>
<rect x="525.29" y="157.90" width="30.43" height="6.79" fill="#cccccc" stroke="#8c8c8c" stroke-width="0.8"/>
<rect x="525.29" y="164.69" width="30.43" height="6.79" fill="#cccccc" stroke="#8c8c8c" stroke-width="0.8"/>
<rect x="525.29" y="171.48" width="30.43" height="7.95" fill="#cccccc"/>
<rect x="555.72" y="123.95" width="30.43" height="6.79" fill="#cccccc" stroke="#8c8c8c" stroke-width="0.8"/>
<rect x="555.72" y="130.74" width="30.43" height="6.79" fill="#cccccc" stroke="#8c8c8c" stroke-width="0.8"/>
<rect x="555.72" y="137.53" width="30.43" height="6.79" fill="#cccccc" stroke="#8c8c8c" stroke-width="0.8"/>
<rect x="555.72" y="144.32" width="30.43" height="6.79" fill="#cccccc" stroke="#8c8c8c" stroke-width="0.8"/>
<rect x="555.72" y="151.11" width="30.43" height="6.79" fill="#cccccc" stroke="#8c8c8c" stroke-width="0.8"/>
<rect x="555.72" y="157.90" width="30.43" height="6.79" fill="#cccccc" stroke="#8c8c8c" stroke-width="0.8"/>
<rect x="555.72" y="164.69" width="30.43" height="6.79" fill="#cccccc" stroke="#8c8c8c" stroke-width="0.8"/>
<rect x="555.72" y="171.48" width="30.43" height="7.95" fill="#cccccc"/>
<path d="M302.90,172.03H332.27V178.88H302.90ZM338.70,172.03H428.81V178.88H338.70ZM368.57,172.03V178.88M398.94,172.03V178.88M434.50,172.03H585.65V178.88H434.50ZM464.43,172.03V178.88M494.86,172.03V178.88M525.29,172.03V178.88M555.72,172.03V178.88" fill="none" stroke="#000000" stroke-width="1.1"/>
<rect x="591.60" y="124.05" width="14.20" height="6.86" fill="#ffffff" stroke="#000000" stroke-width="1.0"/>
<rect x="591.60" y="130.91" width="14.20" height="6.86" fill="#ffffff" stroke="#000000" stroke-width="1.0"/>
<rect x="591.60" y="137.78" width="14.20" height="6.86" fill="#ffffff" stroke="#000000" stroke-width="1.0"/>
<rect x="591.60" y="144.64" width="14.20" height="6.86" fill="#ffffff" stroke="#000000" stroke-width="1.0"/>
<rect x="591.60" y="151.50" width="14.20" height="6.86" fill="#ffffff" stroke="#000000" stroke-width="1.0"/>
<rect x="591.60" y="158.36" width="14.20" height="6.86" fill="#ffffff" stroke="#000000" stroke-width="1.0"/>
<rect x="591.60" y="165.22" width="14.20" height="6.86" fill="#ffffff" stroke="#000000" stroke-width="1.0"/>
<rect x="591.60" y="172.09" width="14.20" height="6.86" fill="#ee0000" stroke="#000000" stroke-width="1.0"/>
<rect x="608.00" y="123.55" width="3.10" height="55.90" fill="#000000"/>
<rect x="287.60" y="187.60" width="10.50" height="6.49" fill="#8b0000" stroke="#9a9a9a" stroke-width="0.6"/>
<rect x="287.60" y="194.39" width="10.50" height="6.49" fill="#8b4500" stroke="#9a9a9a" stroke-width="0.6"/>
<rect x="287.60" y="201.18" width="10.50" height="6.49" fill="#8b6508" stroke="#9a9a9a" stroke-width="0.6"/>
<rect x="287.60" y="207.97" width="10.50" height="6.49" fill="#6b8e23" stroke="#9a9a9a" stroke-width="0.6"/>
<rect x="287.60" y="214.76" width="10.50" height="6.49" fill="#2f4f4f" stroke="#9a9a9a" stroke-width="0.6"/>
<rect x="287.60" y="221.55" width="10.50" height="6.49" fill="#27408b" stroke="#9a9a9a" stroke-width="0.6"/>
<rect x="287.60" y="228.34" width="10.50" height="6.49" fill="#473c8b" stroke="#9a9a9a" stroke-width="0.6"/>
<text x="299.60" y="242.00" font-size="8.25" font-weight="bold" font-style="normal" text-anchor="end">total</text>
<rect x="302.40" y="187.40" width="30.37" height="6.79" fill="#000000" stroke="#8c8c8c" stroke-width="0.8"/>
<rect x="302.40" y="194.19" width="30.37" height="6.79" fill="#cccccc" stroke="#8c8c8c" stroke-width="0.8"/>
<rect x="302.40" y="200.98" width="30.37" height="6.79" fill="#000000" stroke="#8c8c8c" stroke-width="0.8"/>
<rect x="302.40" y="207.77" width="30.37" height="6.79" fill="#000000" stroke="#8c8c8c" stroke-width="0.8"/>
<rect x="302.40" y="214.56" width="30.37" height="6.79" fill="#000000" stroke="#8c8c8c" stroke-width="0.8"/>
<rect x="302.40" y="221.35" width="30.37" height="6.79" fill="#000000" stroke="#8c8c8c" stroke-width="0.8"/>
<rect x="302.40" y="228.14" width="30.37" height="6.79" fill="#000000" stroke="#8c8c8c" stroke-width="0.8"/>
<rect x="302.40" y="234.93" width="30.37" height="7.95" fill="#ffff00"/>
<rect x="338.20" y="187.40" width="30.37" height="6.79" fill="#000000" stroke="#8c8c8c" stroke-width="0.8"/>
<rect x="338.20" y="194.19" width="30.37" height="6.79" fill="#000000" stroke="#8c8c8c" stroke-width="0.8"/>
<rect x="338.20" y="200.98" width="30.37" height="6.79" fill="#000000" stroke="#8c8c8c" stroke-width="0.8"/>
<rect x="338.20" y="207.77" width="30.37" height="6.79" fill="#000000" stroke="#8c8c8c" stroke-width="0.8"/>
<rect x="338.20" y="214.56" width="30.37" height="6.79" fill="#cccccc" stroke="#8c8c8c" stroke-width="0.8"/>
<rect x="338.20" y="221.35" width="30.37" height="6.79" fill="#000000" stroke="#8c8c8c" stroke-width="0.8"/>
<rect x="338.20" y="228.14" width="30.37" height="6.79" fill="#000000" stroke="#8c8c8c" stroke-width="0.8"/>
<rect x="338.20" y="234.93" width="30.37" height="7.95" fill="#ffff00"/>
<rect x="368.57" y="187.40" width="30.37" height="6.79" fill="#000000" stroke="#8c8c8c" stroke-width="0.8"/>
<rect x="368.57" y="194.19" width="30.37" height="6.79" fill="#cccccc" stroke="#8c8c8c" stroke-width="0.8"/>
<rect x="368.57" y="200.98" width="30.37" height="6.79" fill="#cccccc" stroke="#8c8c8c" stroke-width="0.8"/>
<rect x="368.57" y="207.77" width="30.37" height="6.79" fill="#000000" stroke="#8c8c8c" stroke-width="0.8"/>
<rect x="368.57" y="214.56" width="30.37" height="6.79" fill="#000000" stroke="#8c8c8c" stroke-width="0.8"/>
<rect x="368.57" y="221.35" width="30.37" height="6.79" fill="#000000" stroke="#8c8c8c" stroke-width="0.8"/>
<rect x="368.57" y="228.14" width="30.37" height="6.79" fill="#000000" stroke="#8c8c8c" stroke-width="0.8"/>
<rect x="368.57" y="234.93" width="30.37" height="7.95" fill="#7fff00"/>
<rect x="398.94" y="187.40" width="30.37" height="6.79" fill="#cccccc" stroke="#8c8c8c" stroke-width="0.8"/>
<rect x="398.94" y="194.19" width="30.37" height="6.79" fill="#cccccc" stroke="#8c8c8c" stroke-width="0.8"/>
<rect x="398.94" y="200.98" width="30.37" height="6.79" fill="#cccccc" stroke="#8c8c8c" stroke-width="0.8"/>
<rect x="398.94" y="207.77" width="30.37" height="6.79" fill="#cccccc" stroke="#8c8c8c" stroke-width="0.8"/>
<rect x="398.94" y="214.56" width="30.37" height="6.79" fill="#cccccc" stroke="#8c8c8c" stroke-width="0.8"/>
<rect x="398.94" y="221.35" width="30.37" height="6.79" fill="#cccccc" stroke="#8c8c8c" stroke-width="0.8"/>
<rect x="398.94" y="228.14" width="30.37" height="6.79" fill="#cccccc" stroke="#8c8c8c" stroke-width="0.8"/>
<rect x="398.94" y="234.93" width="30.37" height="7.95" fill="#cccccc"/>
<rect x="434.00" y="187.40" width="30.43" height="6.79" fill="#cccccc" stroke="#8c8c8c" stroke-width="0.8"/>
<rect x="434.00" y="194.19" width="30.43" height="6.79" fill="#cccccc" stroke="#8c8c8c" stroke-width="0.8"/>
<rect x="434.00" y="200.98" width="30.43" height="6.79" fill="#cccccc" stroke="#8c8c8c" stroke-width="0.8"/>
<rect x="434.00" y="207.77" width="30.43" height="6.79" fill="#cccccc" stroke="#8c8c8c" stroke-width="0.8"/>
<rect x="434.00" y="214.56" width="30.43" height="6.79" fill="#cccccc" stroke="#8c8c8c" stroke-width="0.8"/>
<rect x="434.00" y="221.35" width="30.43" height="6.79" fill="#cccccc" stroke="#8c8c8c" stroke-width="0.8"/>
<rect x="434.00" y="228.14" width="30.43" height="6.79" fill="#cccccc" stroke="#8c8c8c" stroke-width="0.8"/>
<rect x="434.00" y="234.93" width="30.43" height="7.95" fill="#cccccc"/>
<rect x="464.43" y="187.40" width="30.43" height="6.79" fill="#cccccc" stroke="#8c8c8c" stroke-width="0.8"/>
<rect x="464.43" y="194.19" width="30.43" height="6.79" fill="#cccccc" stroke="#8c8c8c" stroke-width="0.8"/>
<rect x="464.43" y="200.98" width="30.43" height="6.79" fill="#cccccc" stroke="#8c8c8c" stroke-width="0.8"/>
<rect x="464.43" y="207.77" width="30.43" height="6.79" fill="#cccccc" stroke="#8c8c8c" stroke-width="0.8"/>
<rect x="464.43" y="214.56" width="30.43" height="6.79" fill="#cccccc" stroke="#8c8c8c" stroke-width="0.8"/>
<rect x="464.43" y="221.35" width="30.43" height="6.79" fill="#cccccc" stroke="#8c8c8c" stroke-width="0.8"/>
<rect x="464.43" y="228.14" width="30.43" height="6.79" fill="#cccccc" stroke="#8c8c8c" stroke-width="0.8"/>
<rect x="464.43" y="234.93" width="30.43" height="7.95" fill="#cccccc"/>
<rect x="494.86" y="187.40" width="30.43" height="6.79" fill="#cccccc" stroke="#8c8c8c" stroke-width="0.8"/>
<rect x="494.86" y="194.19" width="30.43" height="6.79" fill="#cccccc" stroke="#8c8c8c" stroke-width="0.8"/>
<rect x="494.86" y="200.98" width="30.43" height="6.79" fill="#cccccc" stroke="#8c8c8c" stroke-width="0.8"/>
<rect x="494.86" y="207.77" width="30.43" height="6.79" fill="#cccccc" stroke="#8c8c8c" stroke-width="0.8"/>
<rect x="494.86" y="214.56" width="30.43" height="6.79" fill="#cccccc" stroke="#8c8c8c" stroke-width="0.8"/>
<rect x="494.86" y="221.35" width="30.43" height="6.79" fill="#cccccc" stroke="#8c8c8c" stroke-width="0.8"/>
<rect x="494.86" y="228.14" width="30.43" height="6.79" fill="#cccccc" stroke="#8c8c8c" stroke-width="0.8"/>
<rect x="494.86" y="234.93" width="30.43" height="7.95" fill="#cccccc"/>
<rect x="525.29" y="187.40" width="30.43" height="6.79" fill="#cccccc" stroke="#8c8c8c" stroke-width="0.8"/>
<rect x="525.29" y="194.19" width="30.43" height="6.79" fill="#cccccc" stroke="#8c8c8c" stroke-width="0.8"/>
<rect x="525.29" y="200.98" width="30.43" height="6.79" fill="#cccccc" stroke="#8c8c8c" stroke-width="0.8"/>
<rect x="525.29" y="207.77" width="30.43" height="6.79" fill="#cccccc" stroke="#8c8c8c" stroke-width="0.8"/>
<rect x="525.29" y="214.56" width="30.43" height="6.79" fill="#cccccc" stroke="#8c8c8c" stroke-width="0.8"/>
<rect x="525.29" y="221.35" width="30.43" height="6.79" fill="#cccccc" stroke="#8c8c8c" stroke-width="0.8"/>
<rect x="525.29" y="228.14" width="30.43" height="6.79" fill="#cccccc" stroke="#8c8c8c" stroke-width="0.8"/>
<rect x="525.29" y="234.93" width="30.43" height="7.95" fill="#cccccc"/>
<rect x="555.72" y="187.40" width="30.43" height="6.79" fill="#cccccc" stroke="#8c8c8c" stroke-width="0.8"/>
<rect x="555.72" y="194.19" width="30.43" height="6.79" fill="#cccccc" stroke="#8c8c8c" stroke-width="0.8"/>
<rect x="555.72" y="200.98" width="30.43" height="6.79" fill="#cccccc" stroke="#8c8c8c" stroke-width="0.8"/>
<rect x="555.72" y="207.77" width="30.43" height="6.79" fill="#cccccc" stroke="#8c8c8c" stroke-width="0.8"/>
<rect x="555.72" y="214.56" width="30.43" height="6.79" fill="#cccccc" stroke="#8c8c8c" stroke-width="0.8"/>
<rect x="555.72" y="221.35" width="30.43" height="6.79" fill="#cccccc" stroke="#8c8c8c" stroke-width="0.8"/>
<rect x="555.72" y="228.14" width="30.43" height="6.79" fill="#cccccc" stroke="#8c8c8c" stroke-width="0.8"/>
<rect x="555.72" y="234.93" width="30.43" height="7.95" fill="#cccccc"/>
<path d="M302.90,235.48H332.27V242.33H302.90ZM338.70,235.48H428.81V242.33H338.70ZM368.57,235.48V242.33M398.94,235.48V242.33M434.50,235.48H585.65V242.33H434.50ZM464.43,235.48V242.33M494.86,235.48V242.33M525.29,235.48V242.33M555.72,235.48V242.33" fill="none" stroke="#000000" stroke-width="1.1"/>
<rect x="591.60" y="187.50" width="14.20" height="6.86" fill="#ee0000" stroke="#000000" stroke-width="1.0"/>
<rect x="591.60" y="194.36" width="14.20" height="6.86" fill="#ffffff" stroke="#000000" stroke-width="1.0"/>
<rect x="591.60" y="201.22" width="14.20" height="6.86" fill="#ffffff" stroke="#000000" stroke-width="1.0"/>
<rect x="591.60" y="208.09" width="14.20" height="6.86" fill="#ee0000" stroke="#000000" stroke-width="1.0"/>
<rect x="591.60" y="214.95" width="14.20" height="6.86" fill="#ffffff" stroke="#000000" stroke-width="1.0"/>
<rect x="591.60" y="221.81" width="14.20" height="6.86" fill="#ee0000" stroke="#000000" stroke-width="1.0"/>
<rect x="591.60" y="228.68" width="14.20" height="6.86" fill="#ee0000" stroke="#000000" stroke-width="1.0"/>
<rect x="591.60" y="235.54" width="14.20" height="6.86" fill="#ee0000" stroke="#000000" stroke-width="1.0"/>
<rect x="608.00" y="187.00" width="3.10" height="55.90" fill="#000000"/>
<rect x="287.60" y="250.90" width="10.50" height="6.49" fill="#8b0000" stroke="#9a9a9a" stroke-width="0.6"/>
<rect x="287.60" y="257.69" width="10.50" height="6.49" fill="#8b4500" stroke="#9a9a9a" stroke-width="0.6"/>
<rect x="287.60" y="264.48" width="10.50" height="6.49" fill="#8b6508" stroke="#9a9a9a" stroke-width="0.6"/>
<rect x="287.60" y="271.27" width="10.50" height="6.49" fill="#6b8e23" stroke="#9a9a9a" stroke-width="0.6"/>
<rect x="287.60" y="278.06" width="10.50" height="6.49" fill="#2f4f4f" stroke="#9a9a9a" stroke-width="0.6"/>
<rect x="287.60" y="284.85" width="10.50" height="6.49" fill="#27408b" stroke="#9a9a9a" stroke-width="0.6"/>
<rect x="287.60" y="291.64" width="10.50" height="6.49" fill="#473c8b" stroke="#9a9a9a" stroke-width="0.6"/>
<text x="299.60" y="305.30" font-size="8.25" font-weight="bold" font-style="normal" text-anchor="end">total</text>
<rect x="302.40" y="250.70" width="30.37" height="6.79" fill="#000000" stroke="#8c8c8c" stroke-width="0.8"/>
<rect x="302.40" y="257.49" width="30.37" height="6.79" fill="#000000" stroke="#8c8c8c" stroke-width="0.8"/>
<rect x="302.40" y="264.28" width="30.37" height="6.79" fill="#000000" stroke="#8c8c8c" stroke-width="0.8"/>
<rect x="302.40" y="271.07" width="30.37" height="6.79" fill="#000000" stroke="#8c8c8c" stroke-width="0.8"/>
<rect x="302.40" y="277.86" width="30.37" height="6.79" fill="#000000" stroke="#8c8c8c" stroke-width="0.8"/>
<rect x="302.40" y="284.65" width="30.37" height="6.79" fill="#cccccc" stroke="#8c8c8c" stroke-width="0.8"/>
<rect x="302.40" y="291.44" width="30.37" height="6.79" fill="#000000" stroke="#8c8c8c" stroke-width="0.8"/>
<rect x="302.40" y="298.23" width="30.37" height="7.95" fill="#ffff00"/>
<rect x="338.20" y="250.70" width="30.37" height="6.79" fill="#000000" stroke="#8c8c8c" stroke-width="0.8"/>
<rect x="338.20" y="257.49" width="30.37" height="6.79" fill="#000000" stroke="#8c8c8c" stroke-width="0.8"/>
<rect x="338.20" y="264.28" width="30.37" height="6.79" fill="#cccccc" stroke="#8c8c8c" stroke-width="0.8"/>
<rect x="338.20" y="271.07" width="30.37" height="6.79" fill="#cccccc" stroke="#8c8c8c" stroke-width="0.8"/>
<rect x="338.20" y="277.86" width="30.37" height="6.79" fill="#cccccc" stroke="#8c8c8c" stroke-width="0.8"/>
<rect x="338.20" y="284.65" width="30.37" height="6.79" fill="#cccccc" stroke="#8c8c8c" stroke-width="0.8"/>
<rect x="338.20" y="291.44" width="30.37" height="6.79" fill="#000000" stroke="#8c8c8c" stroke-width="0.8"/>
<rect x="338.20" y="298.23" width="30.37" height="7.95" fill="#008b8b"/>
<rect x="368.57" y="250.70" width="30.37" height="6.79" fill="#cccccc" stroke="#8c8c8c" stroke-width="0.8"/>
<rect x="368.57" y="257.49" width="30.37" height="6.79" fill="#cccccc" stroke="#8c8c8c" stroke-width="0.8"/>
<rect x="368.57" y="264.28" width="30.37" height="6.79" fill="#000000" stroke="#8c8c8c" stroke-width="0.8"/>
<rect x="368.57" y="271.07" width="30.37" height="6.79" fill="#cccccc" stroke="#8c8c8c" stroke-width="0.8"/>
<rect x="368.57" y="277.86" width="30.37" height="6.79" fill="#cccccc" stroke="#8c8c8c" stroke-width="0.8"/>
<rect x="368.57" y="284.65" width="30.37" height="6.79" fill="#cccccc" stroke="#8c8c8c" stroke-width="0.8"/>
<rect x="368.57" y="291.44" width="30.37" height="6.79" fill="#000000" stroke="#8c8c8c" stroke-width="0.8"/>
<rect x="368.57" y="298.23" width="30.37" height="7.95" fill="#1c86ee"/>
<rect x="398.94" y="250.70" width="30.37" height="6.79" fill="#000000" stroke="#8c8c8c" stroke-width="0.8"/>
<rect x="398.94" y="257.49" width="30.37" height="6.79" fill="#cccccc" stroke="#8c8c8c" stroke-width="0.8"/>
<rect x="398.94" y="264.28" width="30.37" height="6.79" fill="#000000" stroke="#8c8c8c" stroke-width="0.8"/>
<rect x="398.94" y="271.07" width="30.37" height="6.79" fill="#000000" stroke="#8c8c8c" stroke-width="0.8"/>
<rect x="398.94" y="277.86" width="30.37" height="6.79" fill="#000000" stroke="#8c8c8c" stroke-width="0.8"/>
<rect x="398.94" y="284.65" width="30.37" height="6.79" fill="#cccccc" stroke="#8c8c8c" stroke-width="0.8"/>
<rect x="398.94" y="291.44" width="30.37" height="6.79" fill="#000000" stroke="#8c8c8c" stroke-width="0.8"/>
<rect x="398.94" y="298.23" width="30.37" height="7.95" fill="#7fff00"/>
<rect x="434.00" y="250.70" width="30.43" height="6.79" fill="#cccccc" stroke="#8c8c8c" stroke-width="0.8"/>
<rect x="434.00" y="257.49" width="30.43" height="6.79" fill="#cccccc" stroke="#8c8c8c" stroke-width="0.8"/>
<rect x="434.00" y="264.28" width="30.43" height="6.79" fill="#cccccc" stroke="#8c8c8c" stroke-width="0.8"/>
<rect x="434.00" y="271.07" width="30.43" height="6.79" fill="#cccccc" stroke="#8c8c8c" stroke-width="0.8"/>
<rect x="434.00" y="277.86" width="30.43" height="6.79" fill="#cccccc" stroke="#8c8c8c" stroke-width="0.8"/>
<rect x="434.00" y="284.65" width="30.43" height="6.79" fill="#cccccc" stroke="#8c8c8c" stroke-width="0.8"/>
<rect x="434.00" y="291.44" width="30.43" height="6.79" fill="#cccccc" stroke="#8c8c8c" stroke-width="0.8"/>
<rect x="434.00" y="298.23" width="30.43" height="7.95" fill="#cccccc"/>
<rect x="464.43" y="250.70" width="30.43" height="6.79" fill="#cccccc" stroke="#8c8c8c" stroke-width="0.8"/>
<rect x="464.43" y="257.49" width="30.43" height="6.79" fill="#000000" stroke="#8c8c8c" stroke-width="0.8"/>
<rect x="464.43" y="264.28" width="30.43" height="6.79" fill="#cccccc" stroke="#8c8c8c" stroke-width="0.8"/>
<rect x="464.43" y="271.07" width="30.43" height="6.79" fill="#cccccc" stroke="#8c8c8c" stroke-width="0.8"/>
<rect x="464.43" y="277.86" width="30.43" height="6.79" fill="#cccccc" stroke="#8c8c8c" stroke-width="0.8"/>
<rect x="464.43" y="284.65" width="30.43" height="6.79" fill="#000000" stroke="#8c8c8c" stroke-width="0.8"/>
<rect x="464.43" y="291.44" width="30.43" height="6.79" fill="#cccccc" stroke="#8c8c8c" stroke-width="0.8"/>
<rect x="464.43" y="298.23" width="30.43" height="7.95" fill="#1c86ee"/>
<rect x="494.86" y="250.70" width="30.43" height="6.79" fill="#cccccc" stroke="#8c8c8c" stroke-width="0.8"/>
<rect x="494.86" y="257.49" width="30.43" height="6.79" fill="#cccccc" stroke="#8c8c8c" stroke-width="0.8"/>
<rect x="494.86" y="264.28" width="30.43" height="6.79" fill="#cccccc" stroke="#8c8c8c" stroke-width="0.8"/>
<rect x="494.86" y="271.07" width="30.43" height="6.79" fill="#cccccc" stroke="#8c8c8c" stroke-width="0.8"/>
<rect x="494.86" y="277.86" width="30.43" height="6.79" fill="#cccccc" stroke="#8c8c8c" stroke-width="0.8"/>
<rect x="494.86" y="284.65" width="30.43" height="6.79" fill="#cccccc" stroke="#8c8c8c" stroke-width="0.8"/>
<rect x="494.86" y="291.44" width="30.43" height="6.79" fill="#cccccc" stroke="#8c8c8c" stroke-width="0.8"/>
<rect x="494.86" y="298.23" width="30.43" height="7.95" fill="#cccccc"/>
<rect x="525.29" y="250.70" width="30.43" height="6.79" fill="#cccccc" stroke="#8c8c8c" stroke-width="0.8"/>
<rect x="525.29" y="257.49" width="30.43" height="6.79" fill="#cccccc" stroke="#8c8c8c" stroke-width="0.8"/>
<rect x="525.29" y="264.28" width="30.43" height="6.79" fill="#cccccc" stroke="#8c8c8c" stroke-width="0.8"/>
<rect x="525.29" y="271.07" width="30.43" height="6.79" fill="#cccccc" stroke="#8c8c8c" stroke-width="0.8"/>
<rect x="525.29" y="277.86" width="30.43" height="6.79" fill="#cccccc" stroke="#8c8c8c" stroke-width="0.8"/>
<rect x="525.29" y="284.65" width="30.43" height="6.79" fill="#000000" stroke="#8c8c8c" stroke-width="0.8"/>
<rect x="525.29" y="291.44" width="30.43" height="6.79" fill="#000000" stroke="#8c8c8c" stroke-width="0.8"/>
<rect x="525.29" y="298.23" width="30.43" height="7.95" fill="#1c86ee"/>
<rect x="555.72" y="250.70" width="30.43" height="6.79" fill="#cccccc" stroke="#8c8c8c" stroke-width="0.8"/>
<rect x="555.72" y="257.49" width="30.43" height="6.79" fill="#cccccc" stroke="#8c8c8c" stroke-width="0.8"/>
<rect x="555.72" y="264.28" width="30.43" height="6.79" fill="#cccccc" stroke="#8c8c8c" stroke-width="0.8"/>
<rect x="555.72" y="271.07" width="30.43" height="6.79" fill="#cccccc" stroke="#8c8c8c" stroke-width="0.8"/>
<rect x="555.72" y="277.86" width="30.43" height="6.79" fill="#000000" stroke="#8c8c8c" stroke-width="0.8"/>
<rect x="555.72" y="284.65" width="30.43" height="6.79" fill="#000000" stroke="#8c8c8c" stroke-width="0.8"/>
<rect x="555.72" y="291.44" width="30.43" height="6.79" fill="#000000" stroke="#8c8c8c" stroke-width="0.8"/>
<rect x="555.72" y="298.23" width="30.43" height="7.95" fill="#008b8b"/>
<path d="M302.90,298.78H332.27V305.63H302.90ZM338.70,298.78H428.81V305.63H338.70ZM368.57,298.78V305.63M398.94,298.78V305.63M434.50,298.78H585.65V305.63H434.50ZM464.43,298.78V305.63M494.86,298.78V305.63M525.29,298.78V305.63M555.72,298.78V305.63" fill="none" stroke="#000000" stroke-width="1.1"/>
<rect x="591.60" y="250.80" width="14.20" height="6.86" fill="#ee0000" stroke="#000000" stroke-width="1.0"/>
<rect x="591.60" y="257.66" width="14.20" height="6.86" fill="#ffffff" stroke="#000000" stroke-width="1.0"/>
<rect x="591.60" y="264.53" width="14.20" height="6.86" fill="#ee0000" stroke="#000000" stroke-width="1.0"/>
<rect x="591.60" y="271.39" width="14.20" height="6.86" fill="#ffffff" stroke="#000000" stroke-width="1.0"/>
<rect x="591.60" y="278.25" width="14.20" height="6.86" fill="#ffffff" stroke="#000000" stroke-width="1.0"/>
<rect x="591.60" y="285.11" width="14.20" height="6.86" fill="#ffffff" stroke="#000000" stroke-width="1.0"/>
<rect x="591.60" y="291.98" width="14.20" height="6.86" fill="#ffffff" stroke="#000000" stroke-width="1.0"/>
<rect x="591.60" y="298.84" width="14.20" height="6.86" fill="#ffb6c1" stroke="#000000" stroke-width="1.0"/>
<rect x="608.00" y="250.30" width="3.10" height="55.90" fill="#000000"/>
<rect x="287.60" y="314.40" width="10.50" height="6.49" fill="#8b0000" stroke="#9a9a9a" stroke-width="0.6"/>
<rect x="287.60" y="321.19" width="10.50" height="6.49" fill="#8b4500" stroke="#9a9a9a" stroke-width="0.6"/>
<rect x="287.60" y="327.98" width="10.50" height="6.49" fill="#8b6508" stroke="#9a9a9a" stroke-width="0.6"/>
<rect x="287.60" y="334.77" width="10.50" height="6.49" fill="#6b8e23" stroke="#9a9a9a" stroke-width="0.6"/>
<rect x="287.60" y="341.56" width="10.50" height="6.49" fill="#2f4f4f" stroke="#9a9a9a" stroke-width="0.6"/>
<rect x="287.60" y="348.35" width="10.50" height="6.49" fill="#27408b" stroke="#9a9a9a" stroke-width="0.6"/>
<rect x="287.60" y="355.14" width="10.50" height="6.49" fill="#473c8b" stroke="#9a9a9a" stroke-width="0.6"/>
<text x="299.60" y="368.80" font-size="8.25" font-weight="bold" font-style="normal" text-anchor="end">total</text>
<rect x="302.40" y="314.20" width="30.37" height="6.79" fill="#cccccc" stroke="#8c8c8c" stroke-width="0.8"/>
<rect x="302.40" y="320.99" width="30.37" height="6.79" fill="#000000" stroke="#8c8c8c" stroke-width="0.8"/>
<rect x="302.40" y="327.78" width="30.37" height="6.79" fill="#cccccc" stroke="#8c8c8c" stroke-width="0.8"/>
<rect x="302.40" y="334.57" width="30.37" height="6.79" fill="#000000" stroke="#8c8c8c" stroke-width="0.8"/>
<rect x="302.40" y="341.36" width="30.37" height="6.79" fill="#cccccc" stroke="#8c8c8c" stroke-width="0.8"/>
<rect x="302.40" y="348.15" width="30.37" height="6.79" fill="#cccccc" stroke="#8c8c8c" stroke-width="0.8"/>
<rect x="302.40" y="354.94" width="30.37" height="6.79" fill="#cccccc" stroke="#8c8c8c" stroke-width="0.8"/>
<rect x="302.40" y="361.73" width="30.37" height="7.95" fill="#1c86ee"/>
<rect x="338.20" y="314.20" width="30.37" height="6.79" fill="#cccccc" stroke="#8c8c8c" stroke-width="0.8"/>
<rect x="338.20" y="320.99" width="30.37" height="6.79" fill="#cccccc" stroke="#8c8c8c" stroke-width="0.8"/>
<rect x="338.20" y="327.78" width="30.37" height="6.79" fill="#cccccc" stroke="#8c8c8c" stroke-width="0.8"/>
<rect x="338.20" y="334.57" width="30.37" height="6.79" fill="#cccccc" stroke="#8c8c8c" stroke-width="0.8"/>
<rect x="338.20" y="341.36" width="30.37" height="6.79" fill="#cccccc" stroke="#8c8c8c" stroke-width="0.8"/>
<rect x="338.20" y="348.15" width="30.37" height="6.79" fill="#cccccc" stroke="#8c8c8c" stroke-width="0.8"/>
<rect x="338.20" y="354.94" width="30.37" height="6.79" fill="#cccccc" stroke="#8c8c8c" stroke-width="0.8"/>
<rect x="338.20" y="361.73" width="30.37" height="7.95" fill="#cccccc"/>
<rect x="368.57" y="314.20" width="30.37" height="6.79" fill="#000000" stroke="#8c8c8c" stroke-width="0.8"/>
<rect x="368.57" y="320.99" width="30.37" height="6.79" fill="#cccccc" stroke="#8c8c8c" stroke-width="0.8"/>
<rect x="368.57" y="327.78" width="30.37" height="6.79" fill="#000000" stroke="#8c8c8c" stroke-width="0.8"/>
<rect x="368.57" y="334.57" width="30.37" height="6.79" fill="#cccccc" stroke="#8c8c8c" stroke-width="0.8"/>
<rect x="368.57" y="341.36" width="30.37" height="6.79" fill="#cccccc" stroke="#8c8c8c" stroke-width="0.8"/>
<rect x="368.57" y="348.15" width="30.37" height="6.79" fill="#000000" stroke="#8c8c8c" stroke-width="0.8"/>
<rect x="368.57" y="354.94" width="30.37" height="6.79" fill="#000000" stroke="#8c8c8c" stroke-width="0.8"/>
<rect x="368.57" y="361.73" width="30.37" height="7.95" fill="#00cd00"/>
<rect x="398.94" y="314.20" width="30.37" height="6.79" fill="#cccccc" stroke="#8c8c8c" stroke-width="0.8"/>
<rect x="398.94" y="320.99" width="30.37" height="6.79" fill="#cccccc" stroke="#8c8c8c" stroke-width="0.8"/>
<rect x="398.94" y="327.78" width="30.37" height="6.79" fill="#cccccc" stroke="#8c8c8c" stroke-width="0.8"/>
<rect x="398.94" y="334.57" width="30.37" height="6.79" fill="#cccccc" stroke="#8c8c8c" stroke-width="0.8"/>
<rect x="398.94" y="341.36" width="30.37" height="6.79" fill="#cccccc" stroke="#8c8c8c" stroke-width="0.8"/>
<rect x="398.94" y="348.15" width="30.37" height="6.79" fill="#cccccc" stroke="#8c8c8c" stroke-width="0.8"/>
<rect x="398.94" y="354.94" width="30.37" height="6.79" fill="#cccccc" stroke="#8c8c8c" stroke-width="0.8"/>
<rect x="398.94" y="361.73" width="30.37" height="7.95" fill="#cccccc"/>
<rect x="434.00" y="314.20" width="30.43" height="6.79" fill="#cccccc" stroke="#8c8c8c" stroke-width="0.8"/>
<rect x="434.00" y="320.99" width="30.43" height="6.79" fill="#cccccc" stroke="#8c8c8c" stroke-width="0.8"/>
<rect x="434.00" y="327.78" width="30.43" height="6.79" fill="#cccccc" stroke="#8c8c8c" stroke-width="0.8"/>
<rect x="434.00" y="334.57" width="30.43" height="6.79" fill="#cccccc" stroke="#8c8c8c" stroke-width="0.8"/>
<rect x="434.00" y="341.36" width="30.43" height="6.79" fill="#cccccc" stroke="#8c8c8c" stroke-width="0.8"/>
<rect x="434.00" y="348.15" width="30.43" height="6.79" fill="#cccccc" stroke="#8c8c8c" stroke-width="0.8"/>
<rect x="434.00" y="354.94" width="30.43" height="6.79" fill="#cccccc" stroke="#8c8c8c" stroke-width="0.8"/>
<rect x="434.00" y="361.73" width="30.43" height="7.95" fill="#cccccc"/>
<rect x="464.43" y="314.20" width="30.43" height="6.79" fill="#cccccc" stroke="#8c8c8c" stroke-width="0.8"/>
<rect x="464.43" y="320.99" width="30.43" height="6.79" fill="#cccccc" stroke="#8c8c8c" stroke-width="0.8"/>
<rect x="464.43" y="327.78" width="30.43" height="6.79" fill="#cccccc" stroke="#8c8c8c" stroke-width="0.8"/>
<rect x="464.43" y="334.57" width="30.43" height="6.79" fill="#cccccc" stroke="#8c8c8c" stroke-width="0.8"/>
<rect x="464.43" y="341.36" width="30.43" height="6.79" fill="#cccccc" stroke="#8c8c8c" stroke-width="0.8"/>
<rect x="464.43" y="348.15" width="30.43" height="6.79" fill="#cccccc" stroke="#8c8c8c" stroke-width="0.8"/>
<rect x="464.43" y="354.94" width="30.43" height="6.79" fill="#cccccc" stroke="#8c8c8c" stroke-width="0.8"/>
<rect x="464.43" y="361.73" width="30.43" height="7.95" fill="#cccccc"/>
<rect x="494.86" y="314.20" width="30.43" height="6.79" fill="#cccccc" stroke="#8c8c8c" stroke-width="0.8"/>
<rect x="494.86" y="320.99" width="30.43" height="6.79" fill="#cccccc" stroke="#8c8c8c" stroke-width="0.8"/>
<rect x="494.86" y="327.78" width="30.43" height="6.79" fill="#cccccc" stroke="#8c8c8c" stroke-width="0.8"/>
<rect x="494.86" y="334.57" width="30.43" height="6.79" fill="#cccccc" stroke="#8c8c8c" stroke-width="0.8"/>
<rect x="494.86" y="341.36" width="30.43" height="6.79" fill="#cccccc" stroke="#8c8c8c" stroke-width="0.8"/>
<rect x="494.86" y="348.15" width="30.43" height="6.79" fill="#cccccc" stroke="#8c8c8c" stroke-width="0.8"/>
<rect x="494.86" y="354.94" width="30.43" height="6.79" fill="#cccccc" stroke="#8c8c8c" stroke-width="0.8"/>
<rect x="494.86" y="361.73" width="30.43" height="7.95" fill="#cccccc"/>
<rect x="525.29" y="314.20" width="30.43" height="6.79" fill="#cccccc" stroke="#8c8c8c" stroke-width="0.8"/>
<rect x="525.29" y="320.99" width="30.43" height="6.79" fill="#cccccc" stroke="#8c8c8c" stroke-width="0.8"/>
<rect x="525.29" y="327.78" width="30.43" height="6.79" fill="#cccccc" stroke="#8c8c8c" stroke-width="0.8"/>
<rect x="525.29" y="334.57" width="30.43" height="6.79" fill="#cccccc" stroke="#8c8c8c" stroke-width="0.8"/>
<rect x="525.29" y="341.36" width="30.43" height="6.79" fill="#cccccc" stroke="#8c8c8c" stroke-width="0.8"/>
<rect x="525.29" y="348.15" width="30.43" height="6.79" fill="#cccccc" stroke="#8c8c8c" stroke-width="0.8"/>
<rect x="525.29" y="354.94" width="30.43" height="6.79" fill="#cccccc" stroke="#8c8c8c" stroke-width="0.8"/>
<rect x="525.29" y="361.73" width="30.43" height="7.95" fill="#cccccc"/>
<rect x="555.72" y="314.20" width="30.43" height="6.79" fill="#cccccc" stroke="#8c8c8c" stroke-width="0.8"/>
<rect x="555.72" y="320.99" width="30.43" height="6.79" fill="#cccccc" stroke="#8c8c8c" stroke-width="0.8"/>
<rect x="555.72" y="327.78" width="30.43" height="6.79" fill="#cccccc" stroke="#8c8c8c" stroke-width="0.8"/>
<rect x="555.72" y="334.57" width="30.43" height="6.79" fill="#cccccc" stroke="#8c8c8c" stroke-width="0.8"/>
<rect x="555.72" y="341.36" width="30.43" height="6.79" fill="#cccccc" stroke="#8c8c8c" stroke-width="0.8"/>
<rect x="555.72" y="348.15" width="30.43" height="6.79" fill="#cccccc" stroke="#8c8c8c" stroke-width="0.8"/>
<rect x="555.72" y="354.94" width="30.43" height="6.79" fill="#cccccc" stroke="#8c8c8c" stroke-width="0.8"/>
<rect x="555.72" y="361.73" width="30.43" height="7.95" fill="#cccccc"/>
<path d="M302.90,362.28H332.27V369.13H302.90ZM338.70,362.28H428.81V369.13H338.70ZM368.57,362.28V369.13M398.94,362.28V369.13M434.50,362.28H585.65V369.13H434.50ZM464.43,362.28V369.13M494.86,362.28V369.13M525.29,362.28V369.13M555.72,362.28V369.13" fill="none" stroke="#000000" stroke-width="1.1"/>
<rect x="591.60" y="314.30" width="14.20" height="6.86" fill="#ffffff" stroke="#000000" stroke-width="1.0"/>
<rect x="591.60" y="321.16" width="14.20" height="6.86" fill="#ffffff" stroke="#000000" stroke-width="1.0"/>
<rect x="591.60" y="328.03" width="14.20" height="6.86" fill="#ffffff" stroke="#000000" stroke-width="1.0"/>
<rect x="591.60" y="334.89" width="14.20" height="6.86" fill="#ffffff" stroke="#000000" stroke-width="1.0"/>
<rect x="591.60" y="341.75" width="14.20" height="6.86" fill="#ffffff" stroke="#000000" stroke-width="1.0"/>
<rect x="591.60" y="348.61" width="14.20" height="6.86" fill="#ffffff" stroke="#000000" stroke-width="1.0"/>
<rect x="591.60" y="355.48" width="14.20" height="6.86" fill="#ffffff" stroke="#000000" stroke-width="1.0"/>
<rect x="591.60" y="362.34" width="14.20" height="6.86" fill="#ffffff" stroke="#000000" stroke-width="1.0"/>
<rect x="608.00" y="313.80" width="3.10" height="55.90" fill="#000000"/>
<rect x="287.60" y="377.75" width="10.50" height="6.49" fill="#8b0000" stroke="#9a9a9a" stroke-width="0.6"/>
<rect x="287.60" y="384.54" width="10.50" height="6.49" fill="#8b4500" stroke="#9a9a9a" stroke-width="0.6"/>
<rect x="287.60" y="391.33" width="10.50" height="6.49" fill="#8b6508" stroke="#9a9a9a" stroke-width="0.6"/>
<rect x="287.60" y="398.12" width="10.50" height="6.49" fill="#6b8e23" stroke="#9a9a9a" stroke-width="0.6"/>
<rect x="287.60" y="404.91" width="10.50" height="6.49" fill="#2f4f4f" stroke="#9a9a9a" stroke-width="0.6"/>
<rect x="287.60" y="411.70" width="10.50" height="6.49" fill="#27408b" stroke="#9a9a9a" stroke-width="0.6"/>
<rect x="287.60" y="418.49" width="10.50" height="6.49" fill="#473c8b" stroke="#9a9a9a" stroke-width="0.6"/>
<text x="299.60" y="432.15" font-size="8.25" font-weight="bold" font-style="normal" text-anchor="end">total</text>
<rect x="302.40" y="377.55" width="30.37" height="6.79" fill="#cccccc" stroke="#8c8c8c" stroke-width="0.8"/>
<rect x="302.40" y="384.34" width="30.37" height="6.79" fill="#cccccc" stroke="#8c8c8c" stroke-width="0.8"/>
<rect x="302.40" y="391.13" width="30.37" height="6.79" fill="#cccccc" stroke="#8c8c8c" stroke-width="0.8"/>
<rect x="302.40" y="397.92" width="30.37" height="6.79" fill="#cccccc" stroke="#8c8c8c" stroke-width="0.8"/>
<rect x="302.40" y="404.71" width="30.37" height="6.79" fill="#cccccc" stroke="#8c8c8c" stroke-width="0.8"/>
<rect x="302.40" y="411.50" width="30.37" height="6.79" fill="#cccccc" stroke="#8c8c8c" stroke-width="0.8"/>
<rect x="302.40" y="418.29" width="30.37" height="6.79" fill="#cccccc" stroke="#8c8c8c" stroke-width="0.8"/>
<rect x="302.40" y="425.08" width="30.37" height="7.95" fill="#cccccc"/>
<rect x="338.20" y="377.55" width="30.37" height="6.79" fill="#000000" stroke="#8c8c8c" stroke-width="0.8"/>
<rect x="338.20" y="384.34" width="30.37" height="6.79" fill="#cccccc" stroke="#8c8c8c" stroke-width="0.8"/>
<rect x="338.20" y="391.13" width="30.37" height="6.79" fill="#cccccc" stroke="#8c8c8c" stroke-width="0.8"/>
<rect x="338.20" y="397.92" width="30.37" height="6.79" fill="#cccccc" stroke="#8c8c8c" stroke-width="0.8"/>
<rect x="338.20" y="404.71" width="30.37" height="6.79" fill="#cccccc" stroke="#8c8c8c" stroke-width="0.8"/>
<rect x="338.20" y="411.50" width="30.37" height="6.79" fill="#cccccc" stroke="#8c8c8c" stroke-width="0.8"/>
<rect x="338.20" y="418.29" width="30.37" height="6.79" fill="#cccccc" stroke="#8c8c8c" stroke-width="0.8"/>
<rect x="338.20" y="425.08" width="30.37" height="7.95" fill="#000000"/>
<rect x="368.57" y="377.55" width="30.37" height="6.79" fill="#cccccc" stroke="#8c8c8c" stroke-width="0.8"/>
<rect x="368.57" y="384.34" width="30.37" height="6.79" fill="#cccccc" stroke="#8c8c8c" stroke-width="0.8"/>
<rect x="368.57" y="391.13" width="30.37" height="6.79" fill="#cccccc" stroke="#8c8c8c" stroke-width="0.8"/>
<rect x="368.57" y="397.92" width="30.37" height="6.79" fill="#cccccc" stroke="#8c8c8c" stroke-width="0.8"/>
<rect x="368.57" y="404.71" width="30.37" height="6.79" fill="#cccccc" stroke="#8c8c8c" stroke-width="0.8"/>
<rect x="368.57" y="411.50" width="30.37" height="6.79" fill="#cccccc" stroke="#8c8c8c" stroke-width="0.8"/>
<rect x="368.57" y="418.29" width="30.37" height="6.79" fill="#cccccc" stroke="#8c8c8c" stroke-width="0.8"/>
<rect x="368.57" y="425.08" width="30.37" height="7.95" fill="#cccccc"/>
<rect x="398.94" y="377.55" width="30.37" height="6.79" fill="#000000" stroke="#8c8c8c" stroke-width="0.8"/>
<rect x="398.94" y="384.34" width="30.37" height="6.79" fill="#000000" stroke="#8c8c8c" stroke-width="0.8"/>
<rect x="398.94" y="391.13" width="30.37" height="6.79" fill="#cccccc" stroke="#8c8c8c" stroke-width="0.8"/>
<rect x="398.94" y="397.92" width="30.37" height="6.79" fill="#000000" stroke="#8c8c8c" stroke-width="0.8"/>
<rect x="398.94" y="404.71" width="30.37" height="6.79" fill="#000000" stroke="#8c8c8c" stroke-width="0.8"/>
<rect x="398.94" y="411.50" width="30.37" height="6.79" fill="#000000" stroke="#8c8c8c" stroke-width="0.8"/>
<rect x="398.94" y="418.29" width="30.37" height="6.79" fill="#000000" stroke="#8c8c8c" stroke-width="0.8"/>
<rect x="398.94" y="425.08" width="30.37" height="7.95" fill="#ffff00"/>
<rect x="434.00" y="377.55" width="30.43" height="6.79" fill="#cccccc" stroke="#8c8c8c" stroke-width="0.8"/>
<rect x="434.00" y="384.34" width="30.43" height="6.79" fill="#cccccc" stroke="#8c8c8c" stroke-width="0.8"/>
<rect x="434.00" y="391.13" width="30.43" height="6.79" fill="#cccccc" stroke="#8c8c8c" stroke-width="0.8"/>
<rect x="434.00" y="397.92" width="30.43" height="6.79" fill="#cccccc" stroke="#8c8c8c" stroke-width="0.8"/>
<rect x="434.00" y="404.71" width="30.43" height="6.79" fill="#cccccc" stroke="#8c8c8c" stroke-width="0.8"/>
<rect x="434.00" y="411.50" width="30.43" height="6.79" fill="#cccccc" stroke="#8c8c8c" stroke-width="0.8"/>
<rect x="434.00" y="418.29" width="30.43" height="6.79" fill="#cccccc" stroke="#8c8c8c" stroke-width="0.8"/>
<rect x="434.00" y="425.08" width="30.43" height="7.95" fill="#cccccc"/>
<rect x="464.43" y="377.55" width="30.43" height="6.79" fill="#cccccc" stroke="#8c8c8c" stroke-width="0.8"/>
<rect x="464.43" y="384.34" width="30.43" height="6.79" fill="#cccccc" stroke="#8c8c8c" stroke-width="0.8"/>
<rect x="464.43" y="391.13" width="30.43" height="6.79" fill="#cccccc" stroke="#8c8c8c" stroke-width="0.8"/>
<rect x="464.43" y="397.92" width="30.43" height="6.79" fill="#cccccc" stroke="#8c8c8c" stroke-width="0.8"/>
<rect x="464.43" y="404.71" width="30.43" height="6.79" fill="#cccccc" stroke="#8c8c8c" stroke-width="0.8"/>
<rect x="464.43" y="411.50" width="30.43" height="6.79" fill="#cccccc" stroke="#8c8c8c" stroke-width="0.8"/>
<rect x="464.43" y="418.29" width="30.43" height="6.79" fill="#cccccc" stroke="#8c8c8c" stroke-width="0.8"/>
<rect x="464.43" y="425.08" width="30.43" height="7.95" fill="#cccccc"/>
<rect x="494.86" y="377.55" width="30.43" height="6.79" fill="#cccccc" stroke="#8c8c8c" stroke-width="0.8"/>
<rect x="494.86" y="384.34" width="30.43" height="6.79" fill="#cccccc" stroke="#8c8c8c" stroke-width="0.8"/>
<rect x="494.86" y="391.13" width="30.43" height="6.79" fill="#cccccc" stroke="#8c8c8c" stroke-width="0.8"/>
<rect x="494.86" y="397.92" width="30.43" height="6.79" fill="#cccccc" stroke="#8c8c8c" stroke-width="0.8"/>
<rect x="494.86" y="404.71" width="30.43" height="6.79" fill="#cccccc" stroke="#8c8c8c" stroke-width="0.8"/>
<rect x="494.86" y="411.50" width="30.43" height="6.79" fill="#cccccc" stroke="#8c8c8c" stroke-width="0.8"/>
<rect x="494.86" y="418.29" width="30.43" height="6.79" fill="#cccccc" stroke="#8c8c8c" stroke-width="0.8"/>
<rect x="494.86" y="425.08" width="30.43" height="7.95" fill="#cccccc"/>
<rect x="525.29" y="377.55" width="30.43" height="6.79" fill="#cccccc" stroke="#8c8c8c" stroke-width="0.8"/>
<rect x="525.29" y="384.34" width="30.43" height="6.79" fill="#000000" stroke="#8c8c8c" stroke-width="0.8"/>
<rect x="525.29" y="391.13" width="30.43" height="6.79" fill="#cccccc" stroke="#8c8c8c" stroke-width="0.8"/>
<rect x="525.29" y="397.92" width="30.43" height="6.79" fill="#cccccc" stroke="#8c8c8c" stroke-width="0.8"/>
<rect x="525.29" y="404.71" width="30.43" height="6.79" fill="#000000" stroke="#8c8c8c" stroke-width="0.8"/>
<rect x="525.29" y="411.50" width="30.43" height="6.79" fill="#cccccc" stroke="#8c8c8c" stroke-width="0.8"/>
<rect x="525.29" y="418.29" width="30.43" height="6.79" fill="#cccccc" stroke="#8c8c8c" stroke-width="0.8"/>
<rect x="525.29" y="425.08" width="30.43" height="7.95" fill="#1c86ee"/>
<rect x="555.72" y="377.55" width="30.43" height="6.79" fill="#cccccc" stroke="#8c8c8c" stroke-width="0.8"/>
<rect x="555.72" y="384.34" width="30.43" height="6.79" fill="#cccccc" stroke="#8c8c8c" stroke-width="0.8"/>
<rect x="555.72" y="391.13" width="30.43" height="6.79" fill="#cccccc" stroke="#8c8c8c" stroke-width="0.8"/>
<rect x="555.72" y="397.92" width="30.43" height="6.79" fill="#cccccc" stroke="#8c8c8c" stroke-width="0.8"/>
<rect x="555.72" y="404.71" width="30.43" height="6.79" fill="#cccccc" stroke="#8c8c8c" stroke-width="0.8"/>
<rect x="555.72" y="411.50" width="30.43" height="6.79" fill="#cccccc" stroke="#8c8c8c" stroke-width="0.8"/>
<rect x="555.72" y="418.29" width="30.43" height="6.79" fill="#cccccc" stroke="#8c8c8c" stroke-width="0.8"/>
<rect x="555.72" y="425.08" width="30.43" height="7.95" fill="#cccccc"/>
<path d="M302.90,425.63H332.27V432.48H302.90ZM338.70,425.63H428.81V432.48H338.70ZM368.57,425.63V432.48M398.94,425.63V432.48M434.50,425.63H585.65V432.48H434.50ZM464.43,425.63V432.48M494.86,425.63V432.48M525.29,425.63V432.48M555.72,425.63V432.48" fill="none" stroke="#000000" stroke-width="1.1"/>
<rect x="591.60" y="377.65" width="14.20" height="6.86" fill="#ffffff" stroke="#000000" stroke-width="1.0"/>
<rect x="591.60" y="384.51" width="14.20" height="6.86" fill="#ffffff" stroke="#000000" stroke-width="1.0"/>
<rect x="591.60" y="391.38" width="14.20" height="6.86" fill="#ffffff" stroke="#000000" stroke-width="1.0"/>
<rect x="591.60" y="398.24" width="14.20" height="6.86" fill="#ffffff" stroke="#000000" stroke-width="1.0"/>
<rect x="591.60" y="405.10" width="14.20" height="6.86" fill="#ffffff" stroke="#000000" stroke-width="1.0"/>
<rect x="591.60" y="411.96" width="14.20" height="6.86" fill="#ffffff" stroke="#000000" stroke-width="1.0"/>
<rect x="591.60" y="418.82" width="14.20" height="6.86" fill="#ffffff" stroke="#000000" stroke-width="1.0"/>
<rect x="591.60" y="425.69" width="14.20" height="6.86" fill="#ffffff" stroke="#000000" stroke-width="1.0"/>
<rect x="608.00" y="377.15" width="3.10" height="55.90" fill="#000000"/>
<rect x="287.60" y="440.95" width="10.50" height="6.49" fill="#8b0000" stroke="#9a9a9a" stroke-width="0.6"/>
<rect x="287.60" y="447.74" width="10.50" height="6.49" fill="#8b4500" stroke="#9a9a9a" stroke-width="0.6"/>
<rect x="287.60" y="454.53" width="10.50" height="6.49" fill="#8b6508" stroke="#9a9a9a" stroke-width="0.6"/>
<rect x="287.60" y="461.32" width="10.50" height="6.49" fill="#6b8e23" stroke="#9a9a9a" stroke-width="0.6"/>
<rect x="287.60" y="468.11" width="10.50" height="6.49" fill="#2f4f4f" stroke="#9a9a9a" stroke-width="0.6"/>
<rect x="287.60" y="474.90" width="10.50" height="6.49" fill="#27408b" stroke="#9a9a9a" stroke-width="0.6"/>
<rect x="287.60" y="481.69" width="10.50" height="6.49" fill="#473c8b" stroke="#9a9a9a" stroke-width="0.6"/>
<text x="299.60" y="495.35" font-size="8.25" font-weight="bold" font-style="normal" text-anchor="end">total</text>
<rect x="302.40" y="440.75" width="30.37" height="6.79" fill="#000000" stroke="#8c8c8c" stroke-width="0.8"/>
<rect x="302.40" y="447.54" width="30.37" height="6.79" fill="#cccccc" stroke="#8c8c8c" stroke-width="0.8"/>
<rect x="302.40" y="454.33" width="30.37" height="6.79" fill="#000000" stroke="#8c8c8c" stroke-width="0.8"/>
<rect x="302.40" y="461.12" width="30.37" height="6.79" fill="#000000" stroke="#8c8c8c" stroke-width="0.8"/>
<rect x="302.40" y="467.91" width="30.37" height="6.79" fill="#cccccc" stroke="#8c8c8c" stroke-width="0.8"/>
<rect x="302.40" y="474.70" width="30.37" height="6.79" fill="#cccccc" stroke="#8c8c8c" stroke-width="0.8"/>
<rect x="302.40" y="481.49" width="30.37" height="6.79" fill="#cccccc" stroke="#8c8c8c" stroke-width="0.8"/>
<rect x="302.40" y="488.28" width="30.37" height="7.95" fill="#008b8b"/>
<rect x="338.20" y="440.75" width="30.37" height="6.79" fill="#cccccc" stroke="#8c8c8c" stroke-width="0.8"/>
<rect x="338.20" y="447.54" width="30.37" height="6.79" fill="#000000" stroke="#8c8c8c" stroke-width="0.8"/>
<rect x="338.20" y="454.33" width="30.37" height="6.79" fill="#000000" stroke="#8c8c8c" stroke-width="0.8"/>
<rect x="338.20" y="461.12" width="30.37" height="6.79" fill="#000000" stroke="#8c8c8c" stroke-width="0.8"/>
<rect x="338.20" y="467.91" width="30.37" height="6.79" fill="#cccccc" stroke="#8c8c8c" stroke-width="0.8"/>
<rect x="338.20" y="474.70" width="30.37" height="6.79" fill="#cccccc" stroke="#8c8c8c" stroke-width="0.8"/>
<rect x="338.20" y="481.49" width="30.37" height="6.79" fill="#cccccc" stroke="#8c8c8c" stroke-width="0.8"/>
<rect x="338.20" y="488.28" width="30.37" height="7.95" fill="#008b8b"/>
<rect x="368.57" y="440.75" width="30.37" height="6.79" fill="#000000" stroke="#8c8c8c" stroke-width="0.8"/>
<rect x="368.57" y="447.54" width="30.37" height="6.79" fill="#cccccc" stroke="#8c8c8c" stroke-width="0.8"/>
<rect x="368.57" y="454.33" width="30.37" height="6.79" fill="#000000" stroke="#8c8c8c" stroke-width="0.8"/>
<rect x="368.57" y="461.12" width="30.37" height="6.79" fill="#cccccc" stroke="#8c8c8c" stroke-width="0.8"/>
<rect x="368.57" y="467.91" width="30.37" height="6.79" fill="#cccccc" stroke="#8c8c8c" stroke-width="0.8"/>
<rect x="368.57" y="474.70" width="30.37" height="6.79" fill="#000000" stroke="#8c8c8c" stroke-width="0.8"/>
<rect x="368.57" y="481.49" width="30.37" height="6.79" fill="#000000" stroke="#8c8c8c" stroke-width="0.8"/>
<rect x="368.57" y="488.28" width="30.37" height="7.95" fill="#00cd00"/>
<rect x="398.94" y="440.75" width="30.37" height="6.79" fill="#000000" stroke="#8c8c8c" stroke-width="0.8"/>
<rect x="398.94" y="447.54" width="30.37" height="6.79" fill="#cccccc" stroke="#8c8c8c" stroke-width="0.8"/>
<rect x="398.94" y="454.33" width="30.37" height="6.79" fill="#000000" stroke="#8c8c8c" stroke-width="0.8"/>
<rect x="398.94" y="461.12" width="30.37" height="6.79" fill="#000000" stroke="#8c8c8c" stroke-width="0.8"/>
<rect x="398.94" y="467.91" width="30.37" height="6.79" fill="#000000" stroke="#8c8c8c" stroke-width="0.8"/>
<rect x="398.94" y="474.70" width="30.37" height="6.79" fill="#000000" stroke="#8c8c8c" stroke-width="0.8"/>
<rect x="398.94" y="481.49" width="30.37" height="6.79" fill="#000000" stroke="#8c8c8c" stroke-width="0.8"/>
<rect x="398.94" y="488.28" width="30.37" height="7.95" fill="#ffff00"/>
<rect x="434.00" y="440.75" width="30.43" height="6.79" fill="#cccccc" stroke="#8c8c8c" stroke-width="0.8"/>
<rect x="434.00" y="447.54" width="30.43" height="6.79" fill="#cccccc" stroke="#8c8c8c" stroke-width="0.8"/>
<rect x="434.00" y="454.33" width="30.43" height="6.79" fill="#cccccc" stroke="#8c8c8c" stroke-width="0.8"/>
<rect x="434.00" y="461.12" width="30.43" height="6.79" fill="#cccccc" stroke="#8c8c8c" stroke-width="0.8"/>
<rect x="434.00" y="467.91" width="30.43" height="6.79" fill="#cccccc" stroke="#8c8c8c" stroke-width="0.8"/>
<rect x="434.00" y="474.70" width="30.43" height="6.79" fill="#cccccc" stroke="#8c8c8c" stroke-width="0.8"/>
<rect x="434.00" y="481.49" width="30.43" height="6.79" fill="#cccccc" stroke="#8c8c8c" stroke-width="0.8"/>
<rect x="434.00" y="488.28" width="30.43" height="7.95" fill="#cccccc"/>
<rect x="464.43" y="440.75" width="30.43" height="6.79" fill="#cccccc" stroke="#8c8c8c" stroke-width="0.8"/>
<rect x="464.43" y="447.54" width="30.43" height="6.79" fill="#cccccc" stroke="#8c8c8c" stroke-width="0.8"/>
<rect x="464.43" y="454.33" width="30.43" height="6.79" fill="#cccccc" stroke="#8c8c8c" stroke-width="0.8"/>
<rect x="464.43" y="461.12" width="30.43" height="6.79" fill="#cccccc" stroke="#8c8c8c" stroke-width="0.8"/>
<rect x="464.43" y="467.91" width="30.43" height="6.79" fill="#cccccc" stroke="#8c8c8c" stroke-width="0.8"/>
<rect x="464.43" y="474.70" width="30.43" height="6.79" fill="#cccccc" stroke="#8c8c8c" stroke-width="0.8"/>
<rect x="464.43" y="481.49" width="30.43" height="6.79" fill="#cccccc" stroke="#8c8c8c" stroke-width="0.8"/>
<rect x="464.43" y="488.28" width="30.43" height="7.95" fill="#cccccc"/>
<rect x="494.86" y="440.75" width="30.43" height="6.79" fill="#cccccc" stroke="#8c8c8c" stroke-width="0.8"/>
<rect x="494.86" y="447.54" width="30.43" height="6.79" fill="#cccccc" stroke="#8c8c8c" stroke-width="0.8"/>
<rect x="494.86" y="454.33" width="30.43" height="6.79" fill="#cccccc" stroke="#8c8c8c" stroke-width="0.8"/>
<rect x="494.86" y="461.12" width="30.43" height="6.79" fill="#cccccc" stroke="#8c8c8c" stroke-width="0.8"/>
<rect x="494.86" y="467.91" width="30.43" height="6.79" fill="#cccccc" stroke="#8c8c8c" stroke-width="0.8"/>
<rect x="494.86" y="474.70" width="30.43" height="6.79" fill="#cccccc" stroke="#8c8c8c" stroke-width="0.8"/>
<rect x="494.86" y="481.49" width="30.43" height="6.79" fill="#cccccc" stroke="#8c8c8c" stroke-width="0.8"/>
<rect x="494.86" y="488.28" width="30.43" height="7.95" fill="#cccccc"/>
<rect x="525.29" y="440.75" width="30.43" height="6.79" fill="#cccccc" stroke="#8c8c8c" stroke-width="0.8"/>
<rect x="525.29" y="447.54" width="30.43" height="6.79" fill="#cccccc" stroke="#8c8c8c" stroke-width="0.8"/>
<rect x="525.29" y="454.33" width="30.43" height="6.79" fill="#cccccc" stroke="#8c8c8c" stroke-width="0.8"/>
<rect x="525.29" y="461.12" width="30.43" height="6.79" fill="#cccccc" stroke="#8c8c8c" stroke-width="0.8"/>
<rect x="525.29" y="467.91" width="30.43" height="6.79" fill="#cccccc" stroke="#8c8c8c" stroke-width="0.8"/>
<rect x="525.29" y="474.70" width="30.43" height="6.79" fill="#cccccc" stroke="#8c8c8c" stroke-width="0.8"/>
<rect x="525.29" y="481.49" width="30.43" height="6.79" fill="#cccccc" stroke="#8c8c8c" stroke-width="0.8"/>
<rect x="525.29" y="488.28" width="30.43" height="7.95" fill="#cccccc"/>
<rect x="555.72" y="440.75" width="30.43" height="6.79" fill="#cccccc" stroke="#8c8c8c" stroke-width="0.8"/>
<rect x="555.72" y="447.54" width="30.43" height="6.79" fill="#cccccc" stroke="#8c8c8c" stroke-width="0.8"/>
<rect x="555.72" y="454.33" width="30.43" height="6.79" fill="#cccccc" stroke="#8c8c8c" stroke-width="0.8"/>
<rect x="555.72" y="461.12" width="30.43" height="6.79" fill="#cccccc" stroke="#8c8c8c" stroke-width="0.8"/>
<rect x="555.72" y="467.91" width="30.43" height="6.79" fill="#cccccc" stroke="#8c8c8c" stroke-width="0.8"/>
<rect x="555.72" y="474.70" width="30.43" height="6.79" fill="#cccccc" stroke="#8c8c8c" stroke-width="0.8"/>
<rect x="555.72" y="481.49" width="30.43" height="6.79" fill="#cccccc" stroke="#8c8c8c" stroke-width="0.8"/>
<rect x="555.72" y="488.28" width="30.43" height="7.95" fill="#cccccc"/>
<path d="M302.90,488.83H332.27V495.68H302.90ZM338.70,488.83H428.81V495.68H338.70ZM368.57,488.83V495.68M398.94,488.83V495.68M434.50,488.83H585.65V495.68H434.50ZM464.43,488.83V495.68M494.86,488.83V495.68M525.29,488.83V495.68M555.72,488.83V495.68" fill="none" stroke="#000000" stroke-width="1.1"/>
<rect x="591.60" y="440.85" width="14.20" height="6.86" fill="#ee0000" stroke="#000000" stroke-width="1.0"/>
<rect x="591.60" y="447.71" width="14.20" height="6.86" fill="#ffffff" stroke="#000000" stroke-width="1.0"/>
<rect x="591.60" y="454.58" width="14.20" height="6.86" fill="#ee0000" stroke="#000000" stroke-width="1.0"/>
<rect x="591.60" y="461.44" width="14.20" height="6.86" fill="#ee0000" stroke="#000000" stroke-width="1.0"/>
<rect x="591.60" y="468.30" width="14.20" height="6.86" fill="#ffffff" stroke="#000000" stroke-width="1.0"/>
<rect x="591.60" y="475.16" width="14.20" height="6.86" fill="#ffffff" stroke="#000000" stroke-width="1.0"/>
<rect x="591.60" y="482.03" width="14.20" height="6.86" fill="#ffffff" stroke="#000000" stroke-width="1.0"/>
<rect x="591.60" y="488.89" width="14.20" height="6.86" fill="#ee0000" stroke="#000000" stroke-width="1.0"/>
<rect x="608.00" y="440.35" width="3.10" height="55.90" fill="#000000"/>
<rect x="287.60" y="504.15" width="10.50" height="6.49" fill="#8b0000" stroke="#9a9a9a" stroke-width="0.6"/>
<rect x="287.60" y="510.94" width="10.50" height="6.49" fill="#8b4500" stroke="#9a9a9a" stroke-width="0.6"/>
<rect x="287.60" y="517.73" width="10.50" height="6.49" fill="#8b6508" stroke="#9a9a9a" stroke-width="0.6"/>
<rect x="287.60" y="524.52" width="10.50" height="6.49" fill="#6b8e23" stroke="#9a9a9a" stroke-width="0.6"/>
<rect x="287.60" y="531.31" width="10.50" height="6.49" fill="#2f4f4f" stroke="#9a9a9a" stroke-width="0.6"/>
<rect x="287.60" y="538.10" width="10.50" height="6.49" fill="#27408b" stroke="#9a9a9a" stroke-width="0.6"/>
<rect x="287.60" y="544.89" width="10.50" height="6.49" fill="#473c8b" stroke="#9a9a9a" stroke-width="0.6"/>
<text x="299.60" y="558.55" font-size="8.25" font-weight="bold" font-style="normal" text-anchor="end">total</text>
<rect x="302.40" y="503.95" width="30.37" height="6.79" fill="#000000" stroke="#8c8c8c" stroke-width="0.8"/>
<rect x="302.40" y="510.74" width="30.37" height="6.79" fill="#cccccc" stroke="#8c8c8c" stroke-width="0.8"/>
<rect x="302.40" y="517.53" width="30.37" height="6.79" fill="#cccccc" stroke="#8c8c8c" stroke-width="0.8"/>
<rect x="302.40" y="524.32" width="30.37" height="6.79" fill="#cccccc" stroke="#8c8c8c" stroke-width="0.8"/>
<rect x="302.40" y="531.11" width="30.37" height="6.79" fill="#cccccc" stroke="#8c8c8c" stroke-width="0.8"/>
<rect x="302.40" y="537.90" width="30.37" height="6.79" fill="#cccccc" stroke="#8c8c8c" stroke-width="0.8"/>
<rect x="302.40" y="544.69" width="30.37" height="6.79" fill="#cccccc" stroke="#8c8c8c" stroke-width="0.8"/>
<rect x="302.40" y="551.48" width="30.37" height="7.95" fill="#000000"/>
<rect x="338.20" y="503.95" width="30.37" height="6.79" fill="#cccccc" stroke="#8c8c8c" stroke-width="0.8"/>
<rect x="338.20" y="510.74" width="30.37" height="6.79" fill="#000000" stroke="#8c8c8c" stroke-width="0.8"/>
<rect x="338.20" y="517.53" width="30.37" height="6.79" fill="#000000" stroke="#8c8c8c" stroke-width="0.8"/>
<rect x="338.20" y="524.32" width="30.37" height="6.79" fill="#000000" stroke="#8c8c8c" stroke-width="0.8"/>
<rect x="338.20" y="531.11" width="30.37" height="6.79" fill="#000000" stroke="#8c8c8c" stroke-width="0.8"/>
<rect x="338.20" y="537.90" width="30.37" height="6.79" fill="#000000" stroke="#8c8c8c" stroke-width="0.8"/>
<rect x="338.20" y="544.69" width="30.37" height="6.79" fill="#000000" stroke="#8c8c8c" stroke-width="0.8"/>
<rect x="338.20" y="551.48" width="30.37" height="7.95" fill="#ffff00"/>
<rect x="368.57" y="503.95" width="30.37" height="6.79" fill="#cccccc" stroke="#8c8c8c" stroke-width="0.8"/>
<rect x="368.57" y="510.74" width="30.37" height="6.79" fill="#cccccc" stroke="#8c8c8c" stroke-width="0.8"/>
<rect x="368.57" y="517.53" width="30.37" height="6.79" fill="#cccccc" stroke="#8c8c8c" stroke-width="0.8"/>
<rect x="368.57" y="524.32" width="30.37" height="6.79" fill="#cccccc" stroke="#8c8c8c" stroke-width="0.8"/>
<rect x="368.57" y="531.11" width="30.37" height="6.79" fill="#cccccc" stroke="#8c8c8c" stroke-width="0.8"/>
<rect x="368.57" y="537.90" width="30.37" height="6.79" fill="#cccccc" stroke="#8c8c8c" stroke-width="0.8"/>
<rect x="368.57" y="544.69" width="30.37" height="6.79" fill="#cccccc" stroke="#8c8c8c" stroke-width="0.8"/>
<rect x="368.57" y="551.48" width="30.37" height="7.95" fill="#cccccc"/>
<rect x="398.94" y="503.95" width="30.37" height="6.79" fill="#ffffff" stroke="#8c8c8c" stroke-width="0.8"/>
<rect x="398.94" y="510.74" width="30.37" height="6.79" fill="#ffffff" stroke="#8c8c8c" stroke-width="0.8"/>
<rect x="398.94" y="517.53" width="30.37" height="6.79" fill="#ffffff" stroke="#8c8c8c" stroke-width="0.8"/>
<rect x="398.94" y="524.32" width="30.37" height="6.79" fill="#ffffff" stroke="#8c8c8c" stroke-width="0.8"/>
<rect x="398.94" y="531.11" width="30.37" height="6.79" fill="#ffffff" stroke="#8c8c8c" stroke-width="0.8"/>
<rect x="398.94" y="537.90" width="30.37" height="6.79" fill="#ffffff" stroke="#8c8c8c" stroke-width="0.8"/>
<rect x="398.94" y="544.69" width="30.37" height="6.79" fill="#ffffff" stroke="#8c8c8c" stroke-width="0.8"/>
<rect x="398.94" y="551.48" width="30.37" height="7.95" fill="#ffffff"/>
<rect x="434.00" y="503.95" width="30.43" height="6.79" fill="#ffffff" stroke="#8c8c8c" stroke-width="0.8"/>
<rect x="434.00" y="510.74" width="30.43" height="6.79" fill="#ffffff" stroke="#8c8c8c" stroke-width="0.8"/>
<rect x="434.00" y="517.53" width="30.43" height="6.79" fill="#ffffff" stroke="#8c8c8c" stroke-width="0.8"/>
<rect x="434.00" y="524.32" width="30.43" height="6.79" fill="#ffffff" stroke="#8c8c8c" stroke-width="0.8"/>
<rect x="434.00" y="531.11" width="30.43" height="6.79" fill="#ffffff" stroke="#8c8c8c" stroke-width="0.8"/>
<rect x="434.00" y="537.90" width="30.43" height="6.79" fill="#ffffff" stroke="#8c8c8c" stroke-width="0.8"/>
<rect x="434.00" y="544.69" width="30.43" height="6.79" fill="#ffffff" stroke="#8c8c8c" stroke-width="0.8"/>
<rect x="434.00" y="551.48" width="30.43" height="7.95" fill="#ffffff"/>
<rect x="464.43" y="503.95" width="30.43" height="6.79" fill="#cccccc" stroke="#8c8c8c" stroke-width="0.8"/>
<rect x="464.43" y="510.74" width="30.43" height="6.79" fill="#cccccc" stroke="#8c8c8c" stroke-width="0.8"/>
<rect x="464.43" y="517.53" width="30.43" height="6.79" fill="#cccccc" stroke="#8c8c8c" stroke-width="0.8"/>
<rect x="464.43" y="524.32" width="30.43" height="6.79" fill="#cccccc" stroke="#8c8c8c" stroke-width="0.8"/>
<rect x="464.43" y="531.11" width="30.43" height="6.79" fill="#cccccc" stroke="#8c8c8c" stroke-width="0.8"/>
<rect x="464.43" y="537.90" width="30.43" height="6.79" fill="#cccccc" stroke="#8c8c8c" stroke-width="0.8"/>
<rect x="464.43" y="544.69" width="30.43" height="6.79" fill="#cccccc" stroke="#8c8c8c" stroke-width="0.8"/>
<rect x="464.43" y="551.48" width="30.43" height="7.95" fill="#cccccc"/>
<rect x="494.86" y="503.95" width="30.43" height="6.79" fill="#cccccc" stroke="#8c8c8c" stroke-width="0.8"/>
<rect x="494.86" y="510.74" width="30.43" height="6.79" fill="#cccccc" stroke="#8c8c8c" stroke-width="0.8"/>
<rect x="494.86" y="517.53" width="30.43" height="6.79" fill="#cccccc" stroke="#8c8c8c" stroke-width="0.8"/>
<rect x="494.86" y="524.32" width="30.43" height="6.79" fill="#cccccc" stroke="#8c8c8c" stroke-width="0.8"/>
<rect x="494.86" y="531.11" width="30.43" height="6.79" fill="#cccccc" stroke="#8c8c8c" stroke-width="0.8"/>
<rect x="494.86" y="537.90" width="30.43" height="6.79" fill="#cccccc" stroke="#8c8c8c" stroke-width="0.8"/>
<rect x="494.86" y="544.69" width="30.43" height="6.79" fill="#cccccc" stroke="#8c8c8c" stroke-width="0.8"/>
<rect x="494.86" y="551.48" width="30.43" height="7.95" fill="#cccccc"/>
<rect x="525.29" y="503.95" width="30.43" height="6.79" fill="#cccccc" stroke="#8c8c8c" stroke-width="0.8"/>
<rect x="525.29" y="510.74" width="30.43" height="6.79" fill="#cccccc" stroke="#8c8c8c" stroke-width="0.8"/>
<rect x="525.29" y="517.53" width="30.43" height="6.79" fill="#cccccc" stroke="#8c8c8c" stroke-width="0.8"/>
<rect x="525.29" y="524.32" width="30.43" height="6.79" fill="#cccccc" stroke="#8c8c8c" stroke-width="0.8"/>
<rect x="525.29" y="531.11" width="30.43" height="6.79" fill="#cccccc" stroke="#8c8c8c" stroke-width="0.8"/>
<rect x="525.29" y="537.90" width="30.43" height="6.79" fill="#cccccc" stroke="#8c8c8c" stroke-width="0.8"/>
<rect x="525.29" y="544.69" width="30.43" height="6.79" fill="#cccccc" stroke="#8c8c8c" stroke-width="0.8"/>
<rect x="525.29" y="551.48" width="30.43" height="7.95" fill="#cccccc"/>
<rect x="555.72" y="503.95" width="30.43" height="6.79" fill="#ffffff" stroke="#8c8c8c" stroke-width="0.8"/>
<rect x="555.72" y="510.74" width="30.43" height="6.79" fill="#ffffff" stroke="#8c8c8c" stroke-width="0.8"/>
<rect x="555.72" y="517.53" width="30.43" height="6.79" fill="#ffffff" stroke="#8c8c8c" stroke-width="0.8"/>
<rect x="555.72" y="524.32" width="30.43" height="6.79" fill="#ffffff" stroke="#8c8c8c" stroke-width="0.8"/>
<rect x="555.72" y="531.11" width="30.43" height="6.79" fill="#ffffff" stroke="#8c8c8c" stroke-width="0.8"/>
<rect x="555.72" y="537.90" width="30.43" height="6.79" fill="#ffffff" stroke="#8c8c8c" stroke-width="0.8"/>
<rect x="555.72" y="544.69" width="30.43" height="6.79" fill="#ffffff" stroke="#8c8c8c" stroke-width="0.8"/>
<rect x="555.72" y="551.48" width="30.43" height="7.95" fill="#ffffff"/>
<path d="M302.90,552.03H332.27V558.88H302.90ZM338.70,552.03H428.81V558.88H338.70ZM368.57,552.03V558.88M398.94,552.03V558.88M434.50,552.03H585.65V558.88H434.50ZM464.43,552.03V558.88M494.86,552.03V558.88M525.29,552.03V558.88M555.72,552.03V558.88" fill="none" stroke="#000000" stroke-width="1.1"/>
<rect x="591.60" y="504.05" width="14.20" height="6.86" fill="#ffffff" stroke="#000000" stroke-width="1.0"/>
<rect x="591.60" y="510.91" width="14.20" height="6.86" fill="#ffffff" stroke="#000000" stroke-width="1.0"/>
<rect x="591.60" y="517.77" width="14.20" height="6.86" fill="#ffffff" stroke="#000000" stroke-width="1.0"/>
<rect x="591.60" y="524.64" width="14.20" height="6.86" fill="#ffffff" stroke="#000000" stroke-width="1.0"/>
<rect x="591.60" y="531.50" width="14.20" height="6.86" fill="#ffffff" stroke="#000000" stroke-width="1.0"/>
<rect x="591.60" y="538.36" width="14.20" height="6.86" fill="#ffffff" stroke="#000000" stroke-width="1.0"/>
<rect x="591.60" y="545.23" width="14.20" height="6.86" fill="#ffffff" stroke="#000000" stroke-width="1.0"/>
<rect x="591.60" y="552.09" width="14.20" height="6.86" fill="#ffffff" stroke="#000000" stroke-width="1.0"/>
<rect x="608.00" y="503.55" width="3.10" height="55.90" fill="#000000"/>
<rect x="287.60" y="567.30" width="10.50" height="6.49" fill="#8b0000" stroke="#9a9a9a" stroke-width="0.6"/>
<rect x="287.60" y="574.09" width="10.50" height="6.49" fill="#8b4500" stroke="#9a9a9a" stroke-width="0.6"/>
<rect x="287.60" y="580.88" width="10.50" height="6.49" fill="#8b6508" stroke="#9a9a9a" stroke-width="0.6"/>
<rect x="287.60" y="587.67" width="10.50" height="6.49" fill="#6b8e23" stroke="#9a9a9a" stroke-width="0.6"/>
<rect x="287.60" y="594.46" width="10.50" height="6.49" fill="#2f4f4f" stroke="#9a9a9a" stroke-width="0.6"/>
<rect x="287.60" y="601.25" width="10.50" height="6.49" fill="#27408b" stroke="#9a9a9a" stroke-width="0.6"/>
<rect x="287.60" y="608.04" width="10.50" height="6.49" fill="#473c8b" stroke="#9a9a9a" stroke-width="0.6"/>
<text x="299.60" y="621.70" font-size="8.25" font-weight="bold" font-style="normal" text-anchor="end">total</text>
<rect x="302.40" y="567.10" width="30.37" height="6.79" fill="#cccccc" stroke="#8c8c8c" stroke-width="0.8"/>
<rect x="302.40" y="573.89" width="30.37" height="6.79" fill="#cccccc" stroke="#8c8c8c" stroke-width="0.8"/>
<rect x="302.40" y="580.68" width="30.37" height="6.79" fill="#cccccc" stroke="#8c8c8c" stroke-width="0.8"/>
<rect x="302.40" y="587.47" width="30.37" height="6.79" fill="#cccccc" stroke="#8c8c8c" stroke-width="0.8"/>
<rect x="302.40" y="594.26" width="30.37" height="6.79" fill="#cccccc" stroke="#8c8c8c" stroke-width="0.8"/>
<rect x="302.40" y="601.05" width="30.37" height="6.79" fill="#cccccc" stroke="#8c8c8c" stroke-width="0.8"/>
<rect x="302.40" y="607.84" width="30.37" height="6.79" fill="#cccccc" stroke="#8c8c8c" stroke-width="0.8"/>
<rect x="302.40" y="614.63" width="30.37" height="7.95" fill="#cccccc"/>
<rect x="338.20" y="567.10" width="30.37" height="6.79" fill="#cccccc" stroke="#8c8c8c" stroke-width="0.8"/>
<rect x="338.20" y="573.89" width="30.37" height="6.79" fill="#cccccc" stroke="#8c8c8c" stroke-width="0.8"/>
<rect x="338.20" y="580.68" width="30.37" height="6.79" fill="#cccccc" stroke="#8c8c8c" stroke-width="0.8"/>
<rect x="338.20" y="587.47" width="30.37" height="6.79" fill="#cccccc" stroke="#8c8c8c" stroke-width="0.8"/>
<rect x="338.20" y="594.26" width="30.37" height="6.79" fill="#cccccc" stroke="#8c8c8c" stroke-width="0.8"/>
<rect x="338.20" y="601.05" width="30.37" height="6.79" fill="#cccccc" stroke="#8c8c8c" stroke-width="0.8"/>
<rect x="338.20" y="607.84" width="30.37" height="6.79" fill="#cccccc" stroke="#8c8c8c" stroke-width="0.8"/>
<rect x="338.20" y="614.63" width="30.37" height="7.95" fill="#cccccc"/>
<rect x="368.57" y="567.10" width="30.37" height="6.79" fill="#000000" stroke="#8c8c8c" stroke-width="0.8"/>
<rect x="368.57" y="573.89" width="30.37" height="6.79" fill="#000000" stroke="#8c8c8c" stroke-width="0.8"/>
<rect x="368.57" y="580.68" width="30.37" height="6.79" fill="#000000" stroke="#8c8c8c" stroke-width="0.8"/>
<rect x="368.57" y="587.47" width="30.37" height="6.79" fill="#000000" stroke="#8c8c8c" stroke-width="0.8"/>
<rect x="368.57" y="594.26" width="30.37" height="6.79" fill="#000000" stroke="#8c8c8c" stroke-width="0.8"/>
<rect x="368.57" y="601.05" width="30.37" height="6.79" fill="#000000" stroke="#8c8c8c" stroke-width="0.8"/>
<rect x="368.57" y="607.84" width="30.37" height="6.79" fill="#000000" stroke="#8c8c8c" stroke-width="0.8"/>
<rect x="368.57" y="614.63" width="30.37" height="7.95" fill="#ffc125"/>
<rect x="398.94" y="567.10" width="30.37" height="6.79" fill="#ffffff" stroke="#8c8c8c" stroke-width="0.8"/>
<rect x="398.94" y="573.89" width="30.37" height="6.79" fill="#ffffff" stroke="#8c8c8c" stroke-width="0.8"/>
<rect x="398.94" y="580.68" width="30.37" height="6.79" fill="#ffffff" stroke="#8c8c8c" stroke-width="0.8"/>
<rect x="398.94" y="587.47" width="30.37" height="6.79" fill="#ffffff" stroke="#8c8c8c" stroke-width="0.8"/>
<rect x="398.94" y="594.26" width="30.37" height="6.79" fill="#ffffff" stroke="#8c8c8c" stroke-width="0.8"/>
<rect x="398.94" y="601.05" width="30.37" height="6.79" fill="#ffffff" stroke="#8c8c8c" stroke-width="0.8"/>
<rect x="398.94" y="607.84" width="30.37" height="6.79" fill="#ffffff" stroke="#8c8c8c" stroke-width="0.8"/>
<rect x="398.94" y="614.63" width="30.37" height="7.95" fill="#ffffff"/>
<rect x="434.00" y="567.10" width="30.43" height="6.79" fill="#ffffff" stroke="#8c8c8c" stroke-width="0.8"/>
<rect x="434.00" y="573.89" width="30.43" height="6.79" fill="#ffffff" stroke="#8c8c8c" stroke-width="0.8"/>
<rect x="434.00" y="580.68" width="30.43" height="6.79" fill="#ffffff" stroke="#8c8c8c" stroke-width="0.8"/>
<rect x="434.00" y="587.47" width="30.43" height="6.79" fill="#ffffff" stroke="#8c8c8c" stroke-width="0.8"/>
<rect x="434.00" y="594.26" width="30.43" height="6.79" fill="#ffffff" stroke="#8c8c8c" stroke-width="0.8"/>
<rect x="434.00" y="601.05" width="30.43" height="6.79" fill="#ffffff" stroke="#8c8c8c" stroke-width="0.8"/>
<rect x="434.00" y="607.84" width="30.43" height="6.79" fill="#ffffff" stroke="#8c8c8c" stroke-width="0.8"/>
<rect x="434.00" y="614.63" width="30.43" height="7.95" fill="#ffffff"/>
<rect x="464.43" y="567.10" width="30.43" height="6.79" fill="#000000" stroke="#8c8c8c" stroke-width="0.8"/>
<rect x="464.43" y="573.89" width="30.43" height="6.79" fill="#000000" stroke="#8c8c8c" stroke-width="0.8"/>
<rect x="464.43" y="580.68" width="30.43" height="6.79" fill="#cccccc" stroke="#8c8c8c" stroke-width="0.8"/>
<rect x="464.43" y="587.47" width="30.43" height="6.79" fill="#cccccc" stroke="#8c8c8c" stroke-width="0.8"/>
<rect x="464.43" y="594.26" width="30.43" height="6.79" fill="#cccccc" stroke="#8c8c8c" stroke-width="0.8"/>
<rect x="464.43" y="601.05" width="30.43" height="6.79" fill="#cccccc" stroke="#8c8c8c" stroke-width="0.8"/>
<rect x="464.43" y="607.84" width="30.43" height="6.79" fill="#cccccc" stroke="#8c8c8c" stroke-width="0.8"/>
<rect x="464.43" y="614.63" width="30.43" height="7.95" fill="#1c86ee"/>
<rect x="494.86" y="567.10" width="30.43" height="6.79" fill="#000000" stroke="#8c8c8c" stroke-width="0.8"/>
<rect x="494.86" y="573.89" width="30.43" height="6.79" fill="#cccccc" stroke="#8c8c8c" stroke-width="0.8"/>
<rect x="494.86" y="580.68" width="30.43" height="6.79" fill="#cccccc" stroke="#8c8c8c" stroke-width="0.8"/>
<rect x="494.86" y="587.47" width="30.43" height="6.79" fill="#cccccc" stroke="#8c8c8c" stroke-width="0.8"/>
<rect x="494.86" y="594.26" width="30.43" height="6.79" fill="#000000" stroke="#8c8c8c" stroke-width="0.8"/>
<rect x="494.86" y="601.05" width="30.43" height="6.79" fill="#000000" stroke="#8c8c8c" stroke-width="0.8"/>
<rect x="494.86" y="607.84" width="30.43" height="6.79" fill="#cccccc" stroke="#8c8c8c" stroke-width="0.8"/>
<rect x="494.86" y="614.63" width="30.43" height="7.95" fill="#008b8b"/>
<rect x="525.29" y="567.10" width="30.43" height="6.79" fill="#000000" stroke="#8c8c8c" stroke-width="0.8"/>
<rect x="525.29" y="573.89" width="30.43" height="6.79" fill="#000000" stroke="#8c8c8c" stroke-width="0.8"/>
<rect x="525.29" y="580.68" width="30.43" height="6.79" fill="#000000" stroke="#8c8c8c" stroke-width="0.8"/>
<rect x="525.29" y="587.47" width="30.43" height="6.79" fill="#cccccc" stroke="#8c8c8c" stroke-width="0.8"/>
<rect x="525.29" y="594.26" width="30.43" height="6.79" fill="#000000" stroke="#8c8c8c" stroke-width="0.8"/>
<rect x="525.29" y="601.05" width="30.43" height="6.79" fill="#000000" stroke="#8c8c8c" stroke-width="0.8"/>
<rect x="525.29" y="607.84" width="30.43" height="6.79" fill="#000000" stroke="#8c8c8c" stroke-width="0.8"/>
<rect x="525.29" y="614.63" width="30.43" height="7.95" fill="#ffff00"/>
<rect x="555.72" y="567.10" width="30.43" height="6.79" fill="#ffffff" stroke="#8c8c8c" stroke-width="0.8"/>
<rect x="555.72" y="573.89" width="30.43" height="6.79" fill="#ffffff" stroke="#8c8c8c" stroke-width="0.8"/>
<rect x="555.72" y="580.68" width="30.43" height="6.79" fill="#ffffff" stroke="#8c8c8c" stroke-width="0.8"/>
<rect x="555.72" y="587.47" width="30.43" height="6.79" fill="#ffffff" stroke="#8c8c8c" stroke-width="0.8"/>
<rect x="555.72" y="594.26" width="30.43" height="6.79" fill="#ffffff" stroke="#8c8c8c" stroke-width="0.8"/>
<rect x="555.72" y="601.05" width="30.43" height="6.79" fill="#ffffff" stroke="#8c8c8c" stroke-width="0.8"/>
<rect x="555.72" y="607.84" width="30.43" height="6.79" fill="#ffffff" stroke="#8c8c8c" stroke-width="0.8"/>
<rect x="555.72" y="614.63" width="30.43" height="7.95" fill="#ffffff"/>
<path d="M302.90,615.18H332.27V622.03H302.90ZM338.70,615.18H428.81V622.03H338.70ZM368.57,615.18V622.03M398.94,615.18V622.03M434.50,615.18H585.65V622.03H434.50ZM464.43,615.18V622.03M494.86,615.18V622.03M525.29,615.18V622.03M555.72,615.18V622.03" fill="none" stroke="#000000" stroke-width="1.1"/>
<rect x="591.60" y="567.20" width="14.20" height="6.86" fill="#ffffff" stroke="#000000" stroke-width="1.0"/>
<rect x="591.60" y="574.06" width="14.20" height="6.86" fill="#ffffff" stroke="#000000" stroke-width="1.0"/>
<rect x="591.60" y="580.93" width="14.20" height="6.86" fill="#ffffff" stroke="#000000" stroke-width="1.0"/>
<rect x="591.60" y="587.79" width="14.20" height="6.86" fill="#ffffff" stroke="#000000" stroke-width="1.0"/>
<rect x="591.60" y="594.65" width="14.20" height="6.86" fill="#ffffff" stroke="#000000" stroke-width="1.0"/>
<rect x="591.60" y="601.51" width="14.20" height="6.86" fill="#ffffff" stroke="#000000" stroke-width="1.0"/>
<rect x="591.60" y="608.38" width="14.20" height="6.86" fill="#ffffff" stroke="#000000" stroke-width="1.0"/>
<rect x="591.60" y="615.24" width="14.20" height="6.86" fill="#ffffff" stroke="#000000" stroke-width="1.0"/>
<rect x="608.00" y="566.70" width="3.10" height="55.90" fill="#000000"/>
<rect x="287.60" y="630.50" width="10.50" height="6.49" fill="#8b0000" stroke="#9a9a9a" stroke-width="0.6"/>
<rect x="287.60" y="637.29" width="10.50" height="6.49" fill="#8b4500" stroke="#9a9a9a" stroke-width="0.6"/>
<rect x="287.60" y="644.08" width="10.50" height="6.49" fill="#8b6508" stroke="#9a9a9a" stroke-width="0.6"/>
<rect x="287.60" y="650.87" width="10.50" height="6.49" fill="#6b8e23" stroke="#9a9a9a" stroke-width="0.6"/>
<rect x="287.60" y="657.66" width="10.50" height="6.49" fill="#2f4f4f" stroke="#9a9a9a" stroke-width="0.6"/>
<rect x="287.60" y="664.45" width="10.50" height="6.49" fill="#27408b" stroke="#9a9a9a" stroke-width="0.6"/>
<rect x="287.60" y="671.24" width="10.50" height="6.49" fill="#473c8b" stroke="#9a9a9a" stroke-width="0.6"/>
<rect x="302.40" y="630.20" width="30.37" height="6.90" fill="#00cd00"/>
<rect x="302.40" y="637.10" width="30.37" height="6.90" fill="#1c86ee"/>
<rect x="302.40" y="644.00" width="30.37" height="6.90" fill="#00cd00"/>
<rect x="302.40" y="650.90" width="30.37" height="6.90" fill="#00cd00"/>
<rect x="302.40" y="657.80" width="30.37" height="6.90" fill="#1c86ee"/>
<rect x="302.40" y="664.70" width="30.37" height="6.90" fill="#000000"/>
<rect x="302.40" y="671.60" width="30.37" height="6.90" fill="#008b8b"/>
<rect x="338.20" y="630.20" width="30.37" height="6.90" fill="#008b8b"/>
<rect x="338.20" y="637.10" width="30.37" height="6.90" fill="#7fff00"/>
<rect x="338.20" y="644.00" width="30.37" height="6.90" fill="#008b8b"/>
<rect x="338.20" y="650.90" width="30.37" height="6.90" fill="#008b8b"/>
<rect x="338.20" y="657.80" width="30.37" height="6.90" fill="#1c86ee"/>
<rect x="338.20" y="664.70" width="30.37" height="6.90" fill="#1c86ee"/>
<rect x="338.20" y="671.60" width="30.37" height="6.90" fill="#008b8b"/>
<rect x="368.57" y="630.20" width="30.37" height="6.90" fill="#00cd00"/>
<rect x="368.57" y="637.10" width="30.37" height="6.90" fill="#000000"/>
<rect x="368.57" y="644.00" width="30.37" height="6.90" fill="#00cd00"/>
<rect x="368.57" y="650.90" width="30.37" height="6.90" fill="#1c86ee"/>
<rect x="368.57" y="657.80" width="30.37" height="6.90" fill="#1c86ee"/>
<rect x="368.57" y="664.70" width="30.37" height="6.90" fill="#00cd00"/>
<rect x="368.57" y="671.60" width="30.37" height="6.90" fill="#7fff00"/>
<rect x="398.94" y="630.20" width="30.37" height="6.90" fill="#ffffff"/>
<rect x="398.94" y="637.10" width="30.37" height="6.90" fill="#ffffff"/>
<rect x="398.94" y="644.00" width="30.37" height="6.90" fill="#ffffff"/>
<rect x="398.94" y="650.90" width="30.37" height="6.90" fill="#ffffff"/>
<rect x="398.94" y="657.80" width="30.37" height="6.90" fill="#ffffff"/>
<rect x="398.94" y="664.70" width="30.37" height="6.90" fill="#ffffff"/>
<rect x="398.94" y="671.60" width="30.37" height="6.90" fill="#ffffff"/>
<rect x="434.00" y="630.20" width="30.43" height="6.90" fill="#ffffff"/>
<rect x="434.00" y="637.10" width="30.43" height="6.90" fill="#ffffff"/>
<rect x="434.00" y="644.00" width="30.43" height="6.90" fill="#ffffff"/>
<rect x="434.00" y="650.90" width="30.43" height="6.90" fill="#ffffff"/>
<rect x="434.00" y="657.80" width="30.43" height="6.90" fill="#ffffff"/>
<rect x="434.00" y="664.70" width="30.43" height="6.90" fill="#ffffff"/>
<rect x="434.00" y="671.60" width="30.43" height="6.90" fill="#ffffff"/>
<rect x="464.43" y="630.20" width="30.43" height="6.90" fill="#000000"/>
<rect x="464.43" y="637.10" width="30.43" height="6.90" fill="#1c86ee"/>
<rect x="464.43" y="644.00" width="30.43" height="6.90" fill="#cccccc"/>
<rect x="464.43" y="650.90" width="30.43" height="6.90" fill="#000000"/>
<rect x="464.43" y="657.80" width="30.43" height="6.90" fill="#cccccc"/>
<rect x="464.43" y="664.70" width="30.43" height="6.90" fill="#000000"/>
<rect x="464.43" y="671.60" width="30.43" height="6.90" fill="#cccccc"/>
<rect x="494.86" y="630.20" width="30.43" height="6.90" fill="#000000"/>
<rect x="494.86" y="637.10" width="30.43" height="6.90" fill="#cccccc"/>
<rect x="494.86" y="644.00" width="30.43" height="6.90" fill="#000000"/>
<rect x="494.86" y="650.90" width="30.43" height="6.90" fill="#cccccc"/>
<rect x="494.86" y="657.80" width="30.43" height="6.90" fill="#000000"/>
<rect x="494.86" y="664.70" width="30.43" height="6.90" fill="#000000"/>
<rect x="494.86" y="671.60" width="30.43" height="6.90" fill="#cccccc"/>
<rect x="525.29" y="630.20" width="30.43" height="6.90" fill="#000000"/>
<rect x="525.29" y="637.10" width="30.43" height="6.90" fill="#1c86ee"/>
<rect x="525.29" y="644.00" width="30.43" height="6.90" fill="#000000"/>
<rect x="525.29" y="650.90" width="30.43" height="6.90" fill="#cccccc"/>
<rect x="525.29" y="657.80" width="30.43" height="6.90" fill="#1c86ee"/>
<rect x="525.29" y="664.70" width="30.43" height="6.90" fill="#1c86ee"/>
<rect x="525.29" y="671.60" width="30.43" height="6.90" fill="#1c86ee"/>
<rect x="555.72" y="630.20" width="30.43" height="6.90" fill="#ffffff"/>
<rect x="555.72" y="637.10" width="30.43" height="6.90" fill="#ffffff"/>
<rect x="555.72" y="644.00" width="30.43" height="6.90" fill="#ffffff"/>
<rect x="555.72" y="650.90" width="30.43" height="6.90" fill="#ffffff"/>
<rect x="555.72" y="657.80" width="30.43" height="6.90" fill="#ffffff"/>
<rect x="555.72" y="664.70" width="30.43" height="6.90" fill="#ffffff"/>
<rect x="555.72" y="671.60" width="30.43" height="6.90" fill="#ffffff"/>
<path d="M302.95,630.80H332.22V677.90H302.95ZM302.95,637.10H332.22M302.95,644.00H332.22M302.95,650.90H332.22M302.95,657.80H332.22M302.95,664.70H332.22M302.95,671.60H332.22M338.75,630.80H428.76V677.90H338.75ZM368.57,630.80V677.90M398.94,630.80V677.90M338.75,637.10H428.76M338.75,644.00H428.76M338.75,650.90H428.76M338.75,657.80H428.76M338.75,664.70H428.76M338.75,671.60H428.76M434.55,630.80H585.60V677.90H434.55ZM464.43,630.80V677.90M494.86,630.80V677.90M525.29,630.80V677.90M555.72,630.80V677.90M434.55,637.10H585.60M434.55,644.00H585.60M434.55,650.90H585.60M434.55,657.80H585.60M434.55,664.70H585.60M434.55,671.60H585.60" fill="none" stroke="#000000" stroke-width="1.2"/>
<rect x="591.60" y="630.70" width="14.20" height="6.90" fill="#ffb6c1" stroke="#000000" stroke-width="1.0"/>
<rect x="591.60" y="637.60" width="14.20" height="6.90" fill="#ffffff" stroke="#000000" stroke-width="1.0"/>
<rect x="591.60" y="644.50" width="14.20" height="6.90" fill="#ffb6c1" stroke="#000000" stroke-width="1.0"/>
<rect x="591.60" y="651.40" width="14.20" height="6.90" fill="#ffb6c1" stroke="#000000" stroke-width="1.0"/>
<rect x="591.60" y="658.30" width="14.20" height="6.90" fill="#ffffff" stroke="#000000" stroke-width="1.0"/>
<rect x="591.60" y="665.20" width="14.20" height="6.90" fill="#ffffff" stroke="#000000" stroke-width="1.0"/>
<rect x="591.60" y="672.10" width="14.20" height="6.40" fill="#ffb6c1" stroke="#000000" stroke-width="1.0"/>
<rect x="608.00" y="630.20" width="3.10" height="48.30" fill="#000000"/>
<text x="614.00" y="87.90" font-size="9.9" font-weight="bold" font-style="normal" text-anchor="start">DNA</text>
<text x="614.00" y="97.40" font-size="9.9" font-weight="bold" font-style="normal" text-anchor="start">gag</text>
<text x="614.00" y="149.40" font-size="9.9" font-weight="bold" font-style="normal" text-anchor="start">DNA</text>
<text x="614.00" y="158.90" font-size="9.9" font-weight="bold" font-style="normal" text-anchor="start">orf I-II</text>
<text x="614.00" y="216.90" font-size="9.9" font-weight="bold" font-style="normal" text-anchor="start">RNA</text>
<text x="614.00" y="226.50" font-size="9.9" font-weight="bold" font-style="italic" text-anchor="start">gag</text>
<text x="614.00" y="275.80" font-size="9.9" font-weight="bold" font-style="normal" text-anchor="start">RNA</text>
<text x="614.00" y="285.30" font-size="9.9" font-weight="bold" font-style="italic" text-anchor="start">rex-orf-I</text>
<text x="614.00" y="341.90" font-size="9.9" font-weight="bold" font-style="normal" text-anchor="start">RNA</text>
<text x="614.00" y="351.40" font-size="9.9" font-weight="bold" font-style="italic" text-anchor="start">Tax</text>
<text x="614.00" y="407.80" font-size="9.9" font-weight="bold" font-style="normal" text-anchor="start">RNA</text>
<text x="614.00" y="417.30" font-size="9.9" font-weight="bold" font-style="italic" text-anchor="start">usHBZ</text>
<text x="614.00" y="467.40" font-size="9.9" font-weight="bold" font-style="normal" text-anchor="start">RNA</text>
<text x="614.00" y="476.90" font-size="9.9" font-weight="bold" font-style="italic" text-anchor="start">sHBZ</text>
<text x="614.00" y="532.10" font-size="9.9" font-weight="bold" font-style="normal" text-anchor="start">Bronchiectasis</text>
<text x="614.00" y="596.00" font-size="9.9" font-weight="bold" font-style="normal" text-anchor="start">Fibrosis</text>
<text x="614.60" y="643.50" font-size="9.9" font-weight="bold" font-style="normal" text-anchor="start">Number of</text>
<text x="614.60" y="653.20" font-size="9.9" font-weight="bold" font-style="normal" text-anchor="start">Positive</text>
<text x="614.60" y="662.70" font-size="9.9" font-weight="bold" font-style="normal" text-anchor="start">variables</text>
<rect x="302.30" y="27.90" width="126.90" height="13.10" fill="#2e8b57"/>
<rect x="434.00" y="27.90" width="152.10" height="13.10" fill="#98fb98"/>
<rect x="302.30" y="43.90" width="30.70" height="13.80" fill="#00e5ee"/>
<rect x="338.20" y="43.90" width="247.90" height="13.80" fill="#ee00ee"/>
<text x="366.8" y="36.9" font-size="11" font-weight="bold" text-anchor="middle" style="fill:#ffffff">HTLV-1A/C<tspan font-size="6.1" dy="3.3" font-style="italic">oI-L</tspan></text>
<text x="506.00" y="37.10" font-size="10.9" font-weight="bold" font-style="normal" text-anchor="middle">HTLV-1A</text>
<text x="317.70" y="54.20" font-size="8.35" font-weight="bold" font-style="normal" text-anchor="middle">No Dep</text>
<text x="460.30" y="54.20" font-size="8.35" font-weight="bold" font-style="normal" text-anchor="middle">Triple Depletion</text>
<text x="593.90" y="56.10" font-size="10.8" font-weight="bold" font-style="normal" text-anchor="start">MW</text>
<text transform="translate(295.9,55.0) rotate(-90)" font-size="11" font-weight="bold">Lung Lobe</text>
<text x="-1.90" y="28.50" font-size="23.5" font-weight="bold" font-style="normal" text-anchor="start">a</text>
<text x="254.80" y="87.00" font-size="22" font-weight="bold" font-style="normal" text-anchor="start">b</text>
<text x="254.80" y="205.70" font-size="22" font-weight="bold" font-style="normal" text-anchor="start">c</text>
<text x="254.80" y="520.50" font-size="22" font-weight="bold" font-style="normal" text-anchor="start">d</text>
<text x="254.80" y="641.20" font-size="22" font-weight="bold" font-style="normal" text-anchor="start">e</text>
<text transform="translate(313.58,682.7) rotate(90)" font-size="10.9">TIT</text>
<text transform="translate(347.08,682.7) rotate(90)" font-size="10.9">DG8Z</text>
<text transform="translate(379.36,682.7) rotate(90)" font-size="10.9">TMN</text>
<text transform="translate(411.43,682.7) rotate(90)" font-size="10.9">DHF6</text>
<text transform="translate(446.62,682.7) rotate(90)" font-size="10.9">RA6</text>
<text transform="translate(473.64,682.7) rotate(90)" font-size="10.9">RH5</text>
<text transform="translate(505.88,682.7) rotate(90)" font-size="10.9">RKF</text>
<text transform="translate(536.30,682.7) rotate(90)" font-size="10.9">TRE</text>
<text transform="translate(567.13,682.7) rotate(90)" font-size="10.9">TZW</text>
</g>
<!-- legend -->
<rect x="271.40" y="718.60" width="397.30" height="139.60" fill="#ffffff" stroke="#000000" stroke-width="1.1"/>
<text x="295.00" y="732.80" font-size="9.3" font-weight="bold" text-anchor="start">Lung Lobe</text>
<rect x="295.60" y="738.80" width="13.20" height="13.67" fill="#8b0000" stroke="#9a9a9a" stroke-width="0.6"/>
<text x="311.70" y="748.90" font-size="8.4" font-weight="normal" text-anchor="start">Right Cranial</text>
<rect x="295.60" y="752.47" width="13.20" height="13.67" fill="#8b4500" stroke="#9a9a9a" stroke-width="0.6"/>
<text x="311.70" y="762.57" font-size="8.4" font-weight="normal" text-anchor="start">Right Middle</text>
<rect x="295.60" y="766.14" width="13.20" height="13.67" fill="#8b6508" stroke="#9a9a9a" stroke-width="0.6"/>
<text x="311.70" y="776.24" font-size="8.4" font-weight="normal" text-anchor="start">Right Caudal</text>
<rect x="295.60" y="779.81" width="13.20" height="13.67" fill="#6b8e23" stroke="#9a9a9a" stroke-width="0.6"/>
<text x="311.70" y="789.91" font-size="8.4" font-weight="normal" text-anchor="start">Accessory</text>
<rect x="295.60" y="793.48" width="13.20" height="13.67" fill="#2f4f4f" stroke="#9a9a9a" stroke-width="0.6"/>
<text x="311.70" y="803.58" font-size="8.4" font-weight="normal" text-anchor="start">Left Cranial Cranial part</text>
<rect x="295.60" y="807.15" width="13.20" height="13.67" fill="#27408b" stroke="#9a9a9a" stroke-width="0.6"/>
<text x="311.70" y="817.25" font-size="8.4" font-weight="normal" text-anchor="start">Left Cranial Caudal part</text>
<rect x="295.60" y="820.82" width="13.20" height="13.67" fill="#473c8b" stroke="#9a9a9a" stroke-width="0.6"/>
<text x="311.70" y="830.92" font-size="8.4" font-weight="normal" text-anchor="start">Left Caudal</text>
<text x="291.7" y="844.4" font-size="8.4"><tspan font-weight="bold">total</tspan> = number of positive lobes</text>
<text x="432.00" y="729.00" font-size="9.2" font-weight="bold" text-anchor="middle">assay</text>
<text x="432.00" y="737.70" font-size="9.2" font-weight="bold" text-anchor="middle">value</text>
<rect x="409.80" y="747.40" width="20.60" height="9.05" fill="#000000" stroke="#8c8c8c" stroke-width="0.7"/>
<text x="433.20" y="753.90" font-size="8.4" font-weight="normal" text-anchor="start">positive</text>
<rect x="409.80" y="756.45" width="20.60" height="9.05" fill="#cccccc" stroke="#8c8c8c" stroke-width="0.7"/>
<text x="433.20" y="762.70" font-size="8.4" font-weight="normal" text-anchor="start">negative</text>
<rect x="409.80" y="765.50" width="20.60" height="9.05" fill="#ffffff" stroke="#8c8c8c" stroke-width="0.7"/>
<text x="433.20" y="771.50" font-size="8.4" font-weight="normal" text-anchor="start">not done</text>
<text x="499.70" y="729.30" font-size="9.2" font-weight="bold" text-anchor="middle">total</text>
<text x="499.70" y="737.63" font-size="9.2" font-weight="bold" text-anchor="middle">number of</text>
<text x="499.70" y="745.96" font-size="9.2" font-weight="bold" text-anchor="middle">positive</text>
<text x="499.70" y="754.29" font-size="9.2" font-weight="bold" text-anchor="middle">variables or</text>
<text x="499.70" y="762.62" font-size="9.2" font-weight="bold" text-anchor="middle">lobes</text>
<rect x="488.80" y="768.30" width="20.20" height="8.90" fill="#ffc125" stroke="#000000" stroke-width="1.0"/>
<text x="513.60" y="775.70" font-size="8.4" font-weight="normal" text-anchor="start">7</text>
<rect x="488.80" y="777.20" width="20.20" height="8.90" fill="#ffff00" stroke="#000000" stroke-width="1.0"/>
<text x="513.60" y="784.66" font-size="8.4" font-weight="normal" text-anchor="start">6</text>
<rect x="488.80" y="786.10" width="20.20" height="8.90" fill="#7fff00" stroke="#000000" stroke-width="1.0"/>
<text x="513.60" y="793.62" font-size="8.4" font-weight="normal" text-anchor="start">5</text>
<rect x="488.80" y="795.00" width="20.20" height="8.90" fill="#00cd00" stroke="#000000" stroke-width="1.0"/>
<text x="513.60" y="802.58" font-size="8.4" font-weight="normal" text-anchor="start">4</text>
<rect x="488.80" y="803.90" width="20.20" height="8.90" fill="#008b8b" stroke="#000000" stroke-width="1.0"/>
<text x="513.60" y="811.54" font-size="8.4" font-weight="normal" text-anchor="start">3</text>
<rect x="488.80" y="812.80" width="20.20" height="8.90" fill="#1c86ee" stroke="#000000" stroke-width="1.0"/>
<text x="513.60" y="820.50" font-size="8.4" font-weight="normal" text-anchor="start">2</text>
<rect x="488.80" y="821.70" width="20.20" height="8.90" fill="#000000" stroke="#000000" stroke-width="1.0"/>
<text x="513.60" y="829.46" font-size="8.4" font-weight="normal" text-anchor="start">1</text>
<rect x="488.80" y="830.60" width="20.20" height="8.90" fill="#cccccc" stroke="#000000" stroke-width="1.0"/>
<text x="513.60" y="838.42" font-size="8.4" font-weight="normal" text-anchor="start">0</text>
<text x="598.20" y="731.50" font-size="9.3" font-weight="bold" text-anchor="middle">Difference between</text>
<text x="598.20" y="740.40" font-size="9.4" font-weight="bold" text-anchor="middle">groups (MW)</text>
<text x="550.5" y="751.2" font-size="8.1" font-weight="bold">HTLV-1A/C<tspan font-size="4.6" dy="1.9" font-style="italic">oI-L</tspan><tspan dy="-1.9"> vs HTLV-1A</tspan></text>
<rect x="568.70" y="761.00" width="10.80" height="11.06" fill="#ee0000" stroke="#555555" stroke-width="0.7"/>
<text x="581.80" y="769.40" font-size="8.4" font-weight="normal" text-anchor="start">up, p &lt; 0.05</text>
<rect x="568.70" y="772.06" width="10.80" height="11.06" fill="#ffb6c1" stroke="#555555" stroke-width="0.7"/>
<text x="581.80" y="780.52" font-size="8.4" font-weight="normal" text-anchor="start">up, p &lt; 0.1</text>
<rect x="568.70" y="783.12" width="10.80" height="11.06" fill="#ffffff" stroke="#555555" stroke-width="0.7"/>
<text x="581.80" y="791.64" font-size="8.4" font-weight="normal" text-anchor="start">not sig, p &gt; 0.05</text>
<rect x="568.70" y="794.18" width="10.80" height="11.06" fill="#87ceeb" stroke="#555555" stroke-width="0.7"/>
<text x="581.80" y="802.76" font-size="8.4" font-weight="normal" text-anchor="start">down, p &lt; 0.1</text>
<rect x="568.70" y="805.24" width="10.80" height="11.06" fill="#0000ee" stroke="#555555" stroke-width="0.7"/>
<text x="581.80" y="813.88" font-size="8.4" font-weight="normal" text-anchor="start">down, p &lt; 0.05</text>
</svg>
</body>
</html>
